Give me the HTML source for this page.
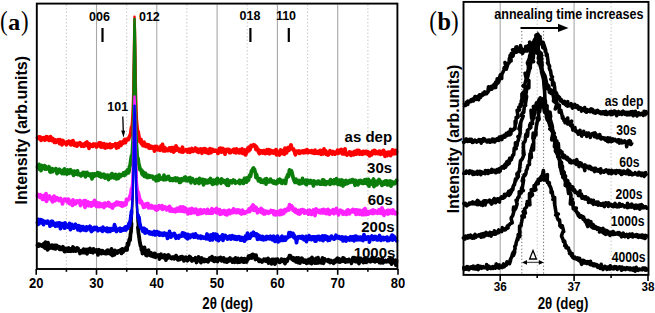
<!DOCTYPE html>
<html><head><meta charset="utf-8"><style>
html,body{margin:0;padding:0;background:#fff;width:655px;height:313px;overflow:hidden}
svg{display:block}
</style></head><body>
<svg width="655" height="313" viewBox="0 0 655 313"><line x1="96.5" y1="4.5" x2="96.5" y2="268" stroke="#a8a8a8" stroke-width="1.1"/>
<line x1="156.8" y1="4.5" x2="156.8" y2="268" stroke="#a8a8a8" stroke-width="1.1"/>
<line x1="217.1" y1="4.5" x2="217.1" y2="268" stroke="#a8a8a8" stroke-width="1.1"/>
<line x1="277.4" y1="4.5" x2="277.4" y2="268" stroke="#a8a8a8" stroke-width="1.1"/>
<line x1="337.7" y1="4.5" x2="337.7" y2="268" stroke="#a8a8a8" stroke-width="1.1"/>
<line x1="66.4" y1="4.5" x2="66.4" y2="268" stroke="#c8c8c8" stroke-width="1" stroke-dasharray="1.5 2"/>
<line x1="126.7" y1="4.5" x2="126.7" y2="268" stroke="#c8c8c8" stroke-width="1" stroke-dasharray="1.5 2"/>
<line x1="186.9" y1="4.5" x2="186.9" y2="268" stroke="#c8c8c8" stroke-width="1" stroke-dasharray="1.5 2"/>
<line x1="247.2" y1="4.5" x2="247.2" y2="268" stroke="#c8c8c8" stroke-width="1" stroke-dasharray="1.5 2"/>
<line x1="307.6" y1="4.5" x2="307.6" y2="268" stroke="#c8c8c8" stroke-width="1" stroke-dasharray="1.5 2"/>
<line x1="367.9" y1="4.5" x2="367.9" y2="268" stroke="#c8c8c8" stroke-width="1" stroke-dasharray="1.5 2"/>
<path d="M37.5 245.3L38.0 246.1L38.5 244.1L39.0 246.0L39.5 245.3L40.0 244.5L40.5 245.1L41.0 245.2L41.5 245.6L42.0 246.0L42.5 244.8L43.0 244.5L43.5 246.7L44.0 243.3L44.5 244.9L45.0 248.0L45.5 242.1L46.0 245.0L46.5 247.0L47.0 243.8L47.5 249.8L48.0 242.6L48.5 248.3L49.0 248.6L49.5 247.7L50.0 246.2L50.5 247.1L51.0 245.4L51.5 247.9L52.0 245.2L52.5 246.5L53.0 248.3L53.5 245.5L54.0 246.6L54.5 247.4L55.0 245.4L55.5 248.9L56.0 247.9L56.5 245.3L57.0 247.5L57.5 246.5L58.0 246.8L58.5 247.9L59.0 246.8L59.5 249.2L60.0 247.0L60.5 249.4L61.0 248.0L61.5 249.4L62.0 247.5L62.5 247.6L63.0 246.8L63.5 249.3L64.0 249.8L64.5 251.6L65.0 250.5L65.5 249.1L66.0 248.5L66.5 249.4L67.0 248.9L67.5 251.1L68.0 250.4L68.5 248.0L69.0 248.3L69.5 251.2L70.0 249.8L70.5 249.1L71.0 251.2L71.5 249.0L72.0 249.2L72.5 249.0L73.0 247.0L73.5 251.0L74.0 248.2L74.5 249.1L75.0 249.0L75.5 251.1L76.0 250.0L76.5 250.2L77.0 247.9L77.5 250.2L78.0 248.3L78.5 250.9L79.0 251.0L79.5 250.5L80.0 253.5L80.5 251.4L81.0 251.6L81.5 251.0L82.0 250.6L82.5 252.2L83.0 252.5L83.5 249.2L84.0 252.5L84.5 251.8L85.0 252.5L85.5 251.8L86.0 249.5L86.5 249.6L87.0 253.9L87.5 251.7L88.0 249.4L88.5 252.0L89.0 251.0L89.5 249.0L90.0 248.4L90.5 249.4L91.0 252.1L91.5 251.6L92.0 251.4L92.5 252.2L93.0 252.7L93.5 248.9L94.0 251.5L94.5 250.8L95.0 250.2L95.5 251.2L96.0 251.8L96.5 251.7L97.0 250.0L97.5 251.4L98.0 254.9L98.5 250.7L99.0 249.8L99.5 252.6L100.0 253.0L100.5 252.9L101.0 250.7L101.5 253.6L102.0 251.2L102.5 250.7L103.0 251.4L103.5 252.2L104.0 253.3L104.5 253.2L105.0 252.3L105.5 253.6L106.0 252.5L106.5 253.6L107.0 250.4L107.5 250.2L108.0 253.4L108.5 250.4L109.0 251.9L109.5 252.2L110.0 251.7L110.5 251.7L111.0 254.3L111.5 248.8L112.0 253.5L112.5 255.5L113.0 252.3L113.5 252.2L114.0 253.3L114.5 254.8L115.0 250.5L115.5 252.3L116.0 251.8L116.5 252.8L117.0 252.2L117.5 252.9L118.0 251.3L118.5 251.9L119.0 250.8L119.5 250.7L120.0 251.4L120.5 251.3L121.0 249.7L121.5 253.4L122.0 250.8L122.5 248.9L123.0 252.2L123.5 249.4L124.0 250.8L124.5 249.8L125.0 249.8L125.5 249.3L126.0 247.7L126.5 248.0L127.0 250.0L127.5 243.3L128.0 245.4L128.5 244.6L129.0 241.1L129.5 238.8L130.0 240.4L130.5 234.0L131.0 231.8L131.5 223.7" fill="none" stroke="#000000" stroke-width="3.8" stroke-linejoin="round" stroke-linecap="round"/>
<path d="M130.5 234.0L131.0 231.8L131.5 223.7L132.0 213.7L132.5 199.0L133.0 174.9L133.5 134.6L134.0 73.9L134.5 24.6L135.0 48.9L135.5 112.6L136.0 161.4L136.5 190.4L137.0 208.5L137.5 220.6L138.0 227.5L138.5 233.0" fill="none" stroke="#000000" stroke-width="2.4" stroke-linejoin="round" stroke-linecap="round"/>
<path d="M138.0 227.5L138.5 233.0L139.0 236.3L139.5 240.0L140.0 243.2L140.5 245.8L141.0 246.0L141.5 250.0L142.0 248.1L142.5 253.5L143.0 251.1L143.5 251.0L144.0 250.2L144.5 247.4L145.0 251.5L145.5 252.4L146.0 255.1L146.5 250.8L147.0 255.7L147.5 252.9L148.0 254.5L148.5 250.1L149.0 254.1L149.5 253.6L150.0 255.2L150.5 254.5L151.0 252.9L151.5 255.9L152.0 255.7L152.5 255.7L153.0 256.4L153.5 256.6L154.0 255.1L154.5 253.4L155.0 253.4L155.5 257.3L156.0 256.5L156.5 255.7L157.0 255.0L157.5 255.8L158.0 255.8L158.5 255.4L159.0 254.9L159.5 259.0L160.0 256.4L160.5 255.3L161.0 254.3L161.5 255.2L162.0 257.3L162.5 257.4L163.0 256.1L163.5 256.5L164.0 256.1L164.5 255.0L165.0 258.4L165.5 257.2L166.0 260.1L166.5 255.7L167.0 256.6L167.5 258.1L168.0 256.5L168.5 255.0L169.0 255.6L169.5 257.1L170.0 257.5L170.5 257.0L171.0 258.5L171.5 258.6L172.0 257.7L172.5 257.3L173.0 256.9L173.5 258.1L174.0 258.7L174.5 257.5L175.0 258.1L175.5 257.0L176.0 255.6L176.5 256.2L177.0 258.7L177.5 258.3L178.0 259.9L178.5 257.8L179.0 259.0L179.5 259.6L180.0 259.2L180.5 257.0L181.0 257.6L181.5 258.1L182.0 256.6L182.5 258.7L183.0 259.5L183.5 257.4L184.0 260.9L184.5 257.7L185.0 257.9L185.5 257.9L186.0 257.3L186.5 258.9L187.0 258.3L187.5 260.7L188.0 259.2L188.5 259.2L189.0 258.1L189.5 256.5L190.0 258.4L190.5 257.3L191.0 259.9L191.5 258.5L192.0 261.0L192.5 259.7L193.0 259.8L193.5 259.0L194.0 259.0L194.5 259.7L195.0 260.1L195.5 257.8L196.0 259.5L196.5 262.5L197.0 258.8L197.5 258.6L198.0 258.0L198.5 257.0L199.0 260.7L199.5 259.1L200.0 259.5L200.5 261.7L201.0 262.6L201.5 257.9L202.0 260.6L202.5 260.1L203.0 259.8L203.5 259.9L204.0 259.2L204.5 261.5L205.0 260.2L205.5 259.8L206.0 261.1L206.5 260.6L207.0 260.0L207.5 259.9L208.0 261.9L208.5 260.2L209.0 259.3L209.5 258.3L210.0 259.0L210.5 258.1L211.0 259.7L211.5 259.9L212.0 256.7L212.5 259.6L213.0 260.5L213.5 259.9L214.0 258.3L214.5 261.4L215.0 258.7L215.5 258.0L216.0 258.2L216.5 259.7L217.0 261.1L217.5 261.4L218.0 260.1L218.5 258.1L219.0 258.9L219.5 258.6L220.0 259.6L220.5 257.4L221.0 260.0L221.5 260.8L222.0 259.7L222.5 260.5L223.0 258.6L223.5 257.9L224.0 259.0L224.5 261.6L225.0 261.4L225.5 259.3L226.0 261.7L226.5 259.5L227.0 262.1L227.5 260.7L228.0 259.4L228.5 261.2L229.0 259.0L229.5 258.8L230.0 258.1L230.5 260.5L231.0 260.0L231.5 260.0L232.0 259.6L232.5 262.2L233.0 259.6L233.5 259.2L234.0 261.9L234.5 262.2L235.0 260.7L235.5 257.8L236.0 259.4L236.5 261.1L237.0 260.3L237.5 262.4L238.0 258.4L238.5 261.2L239.0 259.4L239.5 262.2L240.0 260.2L240.5 261.8L241.0 259.4L241.5 258.4L242.0 258.8L242.5 259.5L243.0 258.9L243.5 262.1L244.0 262.2L244.5 260.7L245.0 258.8L245.5 260.1L246.0 259.2L246.5 262.0L247.0 260.2L247.5 260.2L248.0 258.7L248.5 256.1L249.0 257.4L249.5 256.4L250.0 258.0L250.5 257.1L251.0 255.4L251.5 255.6L252.0 258.0L252.5 254.3L253.0 254.3L253.5 255.3L254.0 254.9L254.5 255.6L255.0 257.4L255.5 259.5L256.0 255.1L256.5 258.1L257.0 258.6L257.5 258.9L258.0 259.1L258.5 259.3L259.0 261.4L259.5 259.5L260.0 260.2L260.5 260.5L261.0 260.7L261.5 260.4L262.0 262.0L262.5 260.7L263.0 260.9L263.5 260.6L264.0 259.3L264.5 259.6L265.0 259.3L265.5 261.0L266.0 259.7L266.5 259.3L267.0 261.1L267.5 261.5L268.0 258.3L268.5 263.1L269.0 260.8L269.5 260.6L270.0 262.3L270.5 260.9L271.0 259.9L271.5 263.8L272.0 259.3L272.5 260.6L273.0 262.0L273.5 259.3L274.0 260.6L274.5 261.3L275.0 264.1L275.5 259.5L276.0 260.7L276.5 261.7L277.0 260.9L277.5 259.1L278.0 261.4L278.5 260.9L279.0 261.4L279.5 262.4L280.0 262.2L280.5 261.4L281.0 261.2L281.5 259.2L282.0 260.6L282.5 261.1L283.0 260.2L283.5 260.9L284.0 259.6L284.5 262.8L285.0 263.6L285.5 259.9L286.0 260.8L286.5 259.7L287.0 261.4L287.5 259.8L288.0 258.8L288.5 257.8L289.0 257.8L289.5 255.8L290.0 257.8L290.5 255.8L291.0 257.6L291.5 257.4L292.0 259.1L292.5 258.1L293.0 260.1L293.5 257.9L294.0 260.5L294.5 259.7L295.0 260.6L295.5 260.6L296.0 261.9L296.5 257.9L297.0 261.2L297.5 258.7L298.0 262.5L298.5 258.0L299.0 259.4L299.5 258.4L300.0 263.1L300.5 259.0L301.0 260.9L301.5 260.0L302.0 258.3L302.5 260.3L303.0 261.7L303.5 260.5L304.0 262.1L304.5 260.3L305.0 260.8L305.5 260.2L306.0 261.3L306.5 263.4L307.0 261.3L307.5 261.1L308.0 259.9L308.5 259.7L309.0 262.8L309.5 259.2L310.0 259.5L310.5 260.6L311.0 260.2L311.5 263.5L312.0 257.5L312.5 261.3L313.0 261.8L313.5 259.2L314.0 259.9L314.5 261.4L315.0 263.1L315.5 259.5L316.0 258.6L316.5 262.1L317.0 262.9L317.5 260.3L318.0 257.7L318.5 262.8L319.0 260.5L319.5 262.4L320.0 260.7L320.5 260.3L321.0 260.2L321.5 262.9L322.0 262.8L322.5 257.8L323.0 259.5L323.5 263.3L324.0 260.3L324.5 258.9L325.0 260.8L325.5 260.6L326.0 260.7L326.5 260.1L327.0 260.4L327.5 260.2L328.0 261.3L328.5 259.7L329.0 260.4L329.5 260.6L330.0 262.6L330.5 261.3L331.0 260.6L331.5 261.5L332.0 261.4L332.5 262.3L333.0 261.5L333.5 263.3L334.0 262.7L334.5 260.7L335.0 260.2L335.5 262.0L336.0 261.5L336.5 260.7L337.0 258.7L337.5 258.2L338.0 261.3L338.5 261.9L339.0 261.9L339.5 259.0L340.0 262.2L340.5 260.0L341.0 261.3L341.5 261.4L342.0 259.7L342.5 260.0L343.0 257.9L343.5 259.5L344.0 258.3L344.5 261.4L345.0 260.9L345.5 262.1L346.0 261.3L346.5 259.9L347.0 261.3L347.5 260.2L348.0 261.6L348.5 261.2L349.0 259.4L349.5 260.8L350.0 260.9L350.5 260.4L351.0 262.0L351.5 263.2L352.0 260.3L352.5 260.3L353.0 257.6L353.5 260.6L354.0 260.2L354.5 257.8L355.0 261.2L355.5 261.6L356.0 259.8L356.5 260.3L357.0 259.4L357.5 261.9L358.0 258.7L358.5 260.4L359.0 263.5L359.5 260.9L360.0 261.4L360.5 260.6L361.0 259.1L361.5 260.7L362.0 261.4L362.5 259.4L363.0 261.3L363.5 262.5L364.0 262.3L364.5 258.6L365.0 259.4L365.5 258.5L366.0 262.3L366.5 261.6L367.0 261.8L367.5 259.6L368.0 259.2L368.5 260.9L369.0 260.9L369.5 259.6L370.0 261.0L370.5 261.7L371.0 261.1L371.5 259.3L372.0 257.8L372.5 260.4L373.0 261.0L373.5 260.4L374.0 260.2L374.5 259.8L375.0 261.8L375.5 260.7L376.0 261.0L376.5 259.4L377.0 259.9L377.5 261.0L378.0 259.4L378.5 259.0L379.0 260.3L379.5 262.5L380.0 261.1L380.5 262.8L381.0 260.6L381.5 260.4L382.0 258.8L382.5 260.0L383.0 262.8L383.5 261.3L384.0 261.8L384.5 261.8L385.0 260.8L385.5 260.5L386.0 261.0L386.5 261.7L387.0 261.4L387.5 261.5L388.0 261.0L388.5 259.7L389.0 260.4L389.5 259.5L390.0 262.2L390.5 257.9L391.0 260.5L391.5 264.1L392.0 260.3L392.5 259.2L393.0 260.8L393.5 262.6L394.0 260.6L394.5 261.7L395.0 260.9L395.5 260.3L396.0 265.2L396.5 260.9" fill="none" stroke="#000000" stroke-width="3.8" stroke-linejoin="round" stroke-linecap="round"/>
<path d="M37.5 137.9L38.0 138.4L38.5 137.6L39.0 136.9L39.5 137.6L40.0 136.9L40.5 138.4L41.0 140.3L41.5 137.8L42.0 137.8L42.5 139.4L43.0 139.3L43.5 139.0L44.0 137.7L44.5 139.0L45.0 140.1L45.5 137.4L46.0 138.7L46.5 136.8L47.0 137.7L47.5 137.0L48.0 139.4L48.5 138.0L49.0 140.3L49.5 140.2L50.0 139.8L50.5 136.6L51.0 139.5L51.5 140.2L52.0 140.6L52.5 138.3L53.0 139.9L53.5 139.3L54.0 139.6L54.5 142.3L55.0 139.8L55.5 141.0L56.0 142.3L56.5 140.4L57.0 141.1L57.5 141.5L58.0 141.5L58.5 139.8L59.0 141.7L59.5 143.6L60.0 139.6L60.5 143.0L61.0 142.1L61.5 141.1L62.0 144.8L62.5 143.2L63.0 140.5L63.5 142.4L64.0 143.1L64.5 142.1L65.0 143.4L65.5 142.4L66.0 143.5L66.5 144.7L67.0 141.8L67.5 143.1L68.0 142.2L68.5 143.1L69.0 141.3L69.5 142.2L70.0 142.8L70.5 144.4L71.0 144.8L71.5 141.4L72.0 142.2L72.5 144.3L73.0 140.7L73.5 142.9L74.0 143.5L74.5 145.4L75.0 144.7L75.5 143.3L76.0 143.3L76.5 143.5L77.0 146.1L77.5 143.4L78.0 143.6L78.5 144.6L79.0 144.0L79.5 144.0L80.0 142.7L80.5 144.3L81.0 143.8L81.5 146.1L82.0 145.4L82.5 144.5L83.0 145.5L83.5 144.2L84.0 146.2L84.5 144.7L85.0 145.6L85.5 143.0L86.0 145.4L86.5 142.6L87.0 142.1L87.5 144.6L88.0 143.8L88.5 145.3L89.0 148.3L89.5 144.0L90.0 144.3L90.5 145.5L91.0 146.0L91.5 145.1L92.0 145.1L92.5 146.4L93.0 146.2L93.5 144.0L94.0 145.4L94.5 145.6L95.0 144.1L95.5 145.9L96.0 144.4L96.5 147.0L97.0 145.9L97.5 145.8L98.0 144.9L98.5 145.5L99.0 142.9L99.5 144.2L100.0 146.3L100.5 142.8L101.0 147.0L101.5 143.4L102.0 146.9L102.5 144.6L103.0 146.9L103.5 146.0L104.0 143.7L104.5 147.6L105.0 147.9L105.5 145.8L106.0 145.5L106.5 145.7L107.0 144.5L107.5 147.4L108.0 145.1L108.5 145.8L109.0 144.8L109.5 145.0L110.0 144.1L110.5 147.7L111.0 145.7L111.5 147.2L112.0 145.9L112.5 144.9L113.0 145.4L113.5 145.1L114.0 145.8L114.5 145.3L115.0 145.4L115.5 143.8L116.0 144.6L116.5 148.0L117.0 144.7L117.5 144.1L118.0 146.0L118.5 147.4L119.0 143.2L119.5 144.8L120.0 144.0L120.5 142.1L121.0 145.3L121.5 143.9L122.0 143.6L122.5 142.1L123.0 143.3L123.5 141.5L124.0 141.6L124.5 139.9L125.0 139.4L125.5 142.6L126.0 139.7L126.5 140.6L127.0 139.8L127.5 139.0L128.0 138.5L128.5 139.5L129.0 137.5L129.5 136.7L130.0 135.5L130.5 134.9L131.0 131.6L131.5 127.5" fill="none" stroke="#ff0000" stroke-width="3.8" stroke-linejoin="round" stroke-linecap="round"/>
<path d="M130.5 134.9L131.0 131.6L131.5 127.5L132.0 121.3L132.5 112.6L133.0 100.1L133.5 77.5L134.0 43.9L134.5 16.8L135.0 30.3L135.5 65.4L136.0 92.7L136.5 108.9L137.0 120.3L137.5 125.1L138.0 131.4L138.5 134.4" fill="none" stroke="#ff0000" stroke-width="2.4" stroke-linejoin="round" stroke-linecap="round"/>
<path d="M138.0 131.4L138.5 134.4L139.0 137.3L139.5 140.5L140.0 141.6L140.5 139.4L141.0 139.6L141.5 143.8L142.0 141.9L142.5 143.9L143.0 145.6L143.5 142.5L144.0 142.3L144.5 145.9L145.0 145.9L145.5 145.7L146.0 146.4L146.5 145.3L147.0 144.6L147.5 146.6L148.0 145.7L148.5 144.9L149.0 148.0L149.5 147.3L150.0 148.1L150.5 146.3L151.0 146.8L151.5 146.4L152.0 146.7L152.5 148.3L153.0 147.0L153.5 148.7L154.0 148.7L154.5 151.1L155.0 146.4L155.5 149.7L156.0 148.3L156.5 148.5L157.0 146.5L157.5 148.0L158.0 149.7L158.5 148.6L159.0 148.9L159.5 148.4L160.0 150.4L160.5 148.8L161.0 145.8L161.5 148.0L162.0 146.2L162.5 144.4L163.0 148.3L163.5 150.9L164.0 149.2L164.5 147.5L165.0 147.8L165.5 150.8L166.0 149.4L166.5 149.3L167.0 149.2L167.5 149.3L168.0 150.4L168.5 150.1L169.0 149.7L169.5 147.9L170.0 150.1L170.5 148.5L171.0 151.0L171.5 147.7L172.0 149.3L172.5 149.5L173.0 147.7L173.5 152.0L174.0 151.6L174.5 148.9L175.0 150.7L175.5 150.2L176.0 146.0L176.5 150.0L177.0 149.6L177.5 149.8L178.0 148.2L178.5 149.3L179.0 149.5L179.5 151.4L180.0 150.2L180.5 149.8L181.0 151.9L181.5 149.0L182.0 149.3L182.5 147.3L183.0 152.1L183.5 151.2L184.0 151.2L184.5 150.9L185.0 150.1L185.5 150.2L186.0 149.6L186.5 149.7L187.0 150.1L187.5 152.1L188.0 150.8L188.5 149.9L189.0 149.2L189.5 149.2L190.0 152.3L190.5 150.8L191.0 150.2L191.5 149.6L192.0 148.6L192.5 150.0L193.0 151.4L193.5 149.6L194.0 149.9L194.5 149.9L195.0 150.4L195.5 148.0L196.0 149.9L196.5 149.0L197.0 151.5L197.5 149.2L198.0 151.1L198.5 152.4L199.0 149.9L199.5 149.5L200.0 150.6L200.5 150.3L201.0 149.0L201.5 151.0L202.0 153.2L202.5 150.0L203.0 150.1L203.5 148.9L204.0 150.9L204.5 148.7L205.0 148.9L205.5 152.3L206.0 149.2L206.5 152.0L207.0 152.6L207.5 150.9L208.0 151.3L208.5 153.3L209.0 150.3L209.5 149.7L210.0 148.7L210.5 150.6L211.0 152.7L211.5 152.0L212.0 149.3L212.5 149.4L213.0 149.9L213.5 151.1L214.0 150.4L214.5 151.0L215.0 151.1L215.5 150.3L216.0 150.7L216.5 151.0L217.0 150.6L217.5 151.5L218.0 153.4L218.5 151.6L219.0 150.9L219.5 148.5L220.0 151.4L220.5 148.1L221.0 148.9L221.5 152.1L222.0 151.9L222.5 150.7L223.0 148.5L223.5 150.4L224.0 150.0L224.5 151.9L225.0 154.1L225.5 151.3L226.0 149.9L226.5 149.4L227.0 151.0L227.5 150.8L228.0 149.5L228.5 151.3L229.0 149.5L229.5 152.7L230.0 152.6L230.5 152.7L231.0 150.5L231.5 151.9L232.0 151.0L232.5 150.7L233.0 150.8L233.5 149.4L234.0 149.3L234.5 152.4L235.0 151.0L235.5 151.6L236.0 152.7L236.5 148.9L237.0 150.3L237.5 151.6L238.0 152.0L238.5 150.9L239.0 152.9L239.5 151.7L240.0 149.8L240.5 150.2L241.0 152.6L241.5 152.2L242.0 148.9L242.5 153.4L243.0 152.4L243.5 153.4L244.0 151.0L244.5 151.1L245.0 149.9L245.5 154.9L246.0 151.0L246.5 153.3L247.0 150.0L247.5 150.8L248.0 147.9L248.5 149.3L249.0 150.7L249.5 147.0L250.0 149.6L250.5 148.0L251.0 145.5L251.5 145.8L252.0 145.5L252.5 145.9L253.0 145.1L253.5 144.8L254.0 145.8L254.5 145.2L255.0 145.3L255.5 147.6L256.0 149.5L256.5 146.8L257.0 149.5L257.5 149.1L258.0 149.1L258.5 152.1L259.0 150.5L259.5 153.6L260.0 150.6L260.5 152.3L261.0 151.6L261.5 150.9L262.0 152.8L262.5 151.8L263.0 152.9L263.5 152.0L264.0 150.6L264.5 152.0L265.0 152.2L265.5 153.5L266.0 150.9L266.5 152.1L267.0 149.8L267.5 153.1L268.0 150.7L268.5 149.7L269.0 152.1L269.5 153.8L270.0 150.1L270.5 150.7L271.0 151.2L271.5 150.7L272.0 152.8L272.5 151.1L273.0 151.3L273.5 153.1L274.0 151.2L274.5 152.9L275.0 150.9L275.5 150.6L276.0 149.7L276.5 154.9L277.0 151.9L277.5 152.6L278.0 152.3L278.5 152.5L279.0 152.4L279.5 155.0L280.0 150.9L280.5 150.1L281.0 150.9L281.5 150.5L282.0 153.4L282.5 153.5L283.0 151.0L283.5 150.4L284.0 151.8L284.5 154.2L285.0 148.2L285.5 152.7L286.0 150.2L286.5 152.9L287.0 149.5L287.5 150.0L288.0 147.6L288.5 147.7L289.0 150.4L289.5 149.0L290.0 147.0L290.5 146.2L291.0 144.9L291.5 147.3L292.0 148.4L292.5 149.0L293.0 149.7L293.5 148.9L294.0 150.9L294.5 151.4L295.0 153.6L295.5 154.7L296.0 152.0L296.5 151.2L297.0 152.3L297.5 151.6L298.0 151.4L298.5 152.4L299.0 151.0L299.5 153.3L300.0 152.3L300.5 152.8L301.0 152.2L301.5 151.4L302.0 151.1L302.5 152.1L303.0 151.7L303.5 152.8L304.0 152.5L304.5 150.6L305.0 152.6L305.5 150.6L306.0 151.6L306.5 152.1L307.0 149.6L307.5 152.6L308.0 152.7L308.5 152.3L309.0 151.9L309.5 152.0L310.0 151.1L310.5 152.1L311.0 151.7L311.5 152.6L312.0 150.8L312.5 152.8L313.0 152.7L313.5 152.3L314.0 151.9L314.5 153.3L315.0 150.2L315.5 153.2L316.0 152.9L316.5 152.9L317.0 153.1L317.5 151.6L318.0 152.2L318.5 153.4L319.0 153.1L319.5 152.8L320.0 150.4L320.5 153.3L321.0 154.2L321.5 154.0L322.0 152.9L322.5 150.4L323.0 153.9L323.5 152.3L324.0 149.0L324.5 153.1L325.0 150.5L325.5 150.7L326.0 151.7L326.5 154.3L327.0 152.0L327.5 152.9L328.0 155.0L328.5 154.8L329.0 152.4L329.5 152.2L330.0 150.8L330.5 151.6L331.0 153.2L331.5 153.1L332.0 152.7L332.5 154.0L333.0 151.5L333.5 152.5L334.0 153.6L334.5 153.4L335.0 154.1L335.5 153.2L336.0 152.2L336.5 153.1L337.0 151.2L337.5 150.3L338.0 153.4L338.5 152.5L339.0 153.0L339.5 150.2L340.0 152.1L340.5 151.8L341.0 151.4L341.5 149.5L342.0 152.1L342.5 153.9L343.0 153.2L343.5 151.8L344.0 152.6L344.5 153.7L345.0 148.8L345.5 152.5L346.0 153.4L346.5 153.6L347.0 155.0L347.5 154.2L348.0 153.1L348.5 153.1L349.0 153.7L349.5 151.9L350.0 152.6L350.5 153.9L351.0 155.4L351.5 152.4L352.0 152.6L352.5 152.9L353.0 154.5L353.5 152.6L354.0 154.7L354.5 151.3L355.0 152.4L355.5 152.4L356.0 153.8L356.5 154.1L357.0 150.5L357.5 151.4L358.0 153.1L358.5 151.7L359.0 150.5L359.5 154.1L360.0 153.4L360.5 153.4L361.0 152.0L361.5 154.1L362.0 152.3L362.5 154.2L363.0 151.4L363.5 151.5L364.0 153.0L364.5 151.7L365.0 153.6L365.5 153.1L366.0 151.4L366.5 152.8L367.0 152.2L367.5 154.0L368.0 151.8L368.5 152.1L369.0 154.4L369.5 155.8L370.0 155.5L370.5 152.8L371.0 153.0L371.5 154.9L372.0 152.5L372.5 151.3L373.0 152.9L373.5 153.3L374.0 151.6L374.5 150.4L375.0 150.7L375.5 153.6L376.0 151.7L376.5 152.5L377.0 153.0L377.5 153.6L378.0 152.3L378.5 153.4L379.0 151.5L379.5 152.2L380.0 151.3L380.5 154.3L381.0 152.7L381.5 151.7L382.0 152.2L382.5 152.4L383.0 153.7L383.5 150.5L384.0 151.3L384.5 152.2L385.0 156.3L385.5 154.1L386.0 152.6L386.5 153.8L387.0 155.6L387.5 152.4L388.0 152.2L388.5 154.5L389.0 153.5L389.5 153.7L390.0 152.1L390.5 155.5L391.0 155.2L391.5 153.6L392.0 153.7L392.5 149.9L393.0 153.7L393.5 152.5L394.0 153.4L394.5 153.7L395.0 152.3L395.5 150.4L396.0 153.3L396.5 151.8" fill="none" stroke="#ff0000" stroke-width="3.8" stroke-linejoin="round" stroke-linecap="round"/>
<path d="M37.5 166.9L38.0 166.6L38.5 167.0L39.0 164.3L39.5 169.3L40.0 168.1L40.5 169.3L41.0 170.6L41.5 168.0L42.0 165.5L42.5 166.8L43.0 166.5L43.5 167.5L44.0 168.4L44.5 165.6L45.0 169.0L45.5 166.4L46.0 169.1L46.5 168.6L47.0 168.4L47.5 168.8L48.0 168.2L48.5 168.2L49.0 166.8L49.5 169.2L50.0 171.9L50.5 172.1L51.0 171.3L51.5 170.5L52.0 168.7L52.5 171.7L53.0 169.7L53.5 169.8L54.0 169.5L54.5 170.2L55.0 169.5L55.5 170.1L56.0 168.8L56.5 169.8L57.0 173.6L57.5 170.4L58.0 170.3L58.5 171.4L59.0 171.8L59.5 169.3L60.0 170.7L60.5 172.3L61.0 171.5L61.5 171.4L62.0 173.5L62.5 170.4L63.0 171.6L63.5 170.8L64.0 173.7L64.5 169.0L65.0 170.8L65.5 171.1L66.0 172.9L66.5 172.9L67.0 174.0L67.5 170.0L68.0 173.3L68.5 171.9L69.0 171.5L69.5 173.2L70.0 171.3L70.5 169.7L71.0 172.2L71.5 170.7L72.0 172.0L72.5 173.5L73.0 173.4L73.5 175.3L74.0 172.9L74.5 171.1L75.0 172.2L75.5 172.1L76.0 171.7L76.5 174.1L77.0 172.7L77.5 170.9L78.0 174.7L78.5 173.6L79.0 174.4L79.5 174.1L80.0 174.9L80.5 174.1L81.0 175.9L81.5 174.8L82.0 174.8L82.5 174.9L83.0 172.3L83.5 174.2L84.0 174.1L84.5 174.8L85.0 172.7L85.5 176.9L86.0 174.9L86.5 173.1L87.0 172.4L87.5 174.5L88.0 174.8L88.5 174.0L89.0 175.1L89.5 174.2L90.0 175.9L90.5 174.1L91.0 175.1L91.5 176.6L92.0 178.9L92.5 173.9L93.0 174.7L93.5 174.2L94.0 176.5L94.5 173.9L95.0 174.8L95.5 175.5L96.0 174.2L96.5 174.3L97.0 175.0L97.5 172.7L98.0 173.7L98.5 175.1L99.0 175.9L99.5 175.5L100.0 173.3L100.5 175.2L101.0 177.0L101.5 176.6L102.0 175.8L102.5 174.7L103.0 176.8L103.5 175.1L104.0 174.3L104.5 174.9L105.0 178.0L105.5 176.3L106.0 177.6L106.5 175.4L107.0 177.4L107.5 175.2L108.0 175.8L108.5 179.6L109.0 177.2L109.5 175.4L110.0 176.0L110.5 176.5L111.0 177.8L111.5 175.4L112.0 173.6L112.5 175.7L113.0 176.1L113.5 176.2L114.0 177.9L114.5 176.5L115.0 177.2L115.5 174.4L116.0 177.2L116.5 178.9L117.0 177.0L117.5 176.2L118.0 176.0L118.5 178.3L119.0 174.4L119.5 175.5L120.0 176.2L120.5 176.5L121.0 174.8L121.5 175.7L122.0 174.7L122.5 175.2L123.0 174.6L123.5 173.0L124.0 174.4L124.5 175.4L125.0 172.5L125.5 173.2L126.0 174.1L126.5 171.2L127.0 172.4L127.5 170.0L128.0 172.2L128.5 172.8L129.0 171.1L129.5 166.7L130.0 165.9L130.5 162.7L131.0 159.3L131.5 155.8" fill="none" stroke="#0a7d0a" stroke-width="3.8" stroke-linejoin="round" stroke-linecap="round"/>
<path d="M130.5 162.7L131.0 159.3L131.5 155.8L132.0 146.9L132.5 138.0L133.0 120.8L133.5 93.7L134.0 52.4L134.5 18.9L135.0 35.5L135.5 78.5L136.0 111.6L136.5 132.1L137.0 144.0L137.5 150.7L138.0 158.5L138.5 162.3" fill="none" stroke="#0a7d0a" stroke-width="2.4" stroke-linejoin="round" stroke-linecap="round"/>
<path d="M138.0 158.5L138.5 162.3L139.0 164.6L139.5 166.7L140.0 169.6L140.5 169.0L141.0 169.7L141.5 171.3L142.0 174.0L142.5 171.0L143.0 175.1L143.5 173.0L144.0 172.8L144.5 176.4L145.0 174.8L145.5 173.4L146.0 175.0L146.5 177.0L147.0 177.5L147.5 175.4L148.0 176.7L148.5 177.3L149.0 175.5L149.5 177.1L150.0 176.6L150.5 176.0L151.0 176.2L151.5 177.0L152.0 177.1L152.5 176.3L153.0 176.6L153.5 178.8L154.0 177.6L154.5 178.6L155.0 179.1L155.5 178.3L156.0 180.7L156.5 176.4L157.0 178.8L157.5 177.2L158.0 180.3L158.5 180.2L159.0 175.1L159.5 176.5L160.0 178.8L160.5 179.1L161.0 179.0L161.5 177.9L162.0 178.7L162.5 179.0L163.0 178.1L163.5 179.7L164.0 175.1L164.5 179.2L165.0 176.9L165.5 179.7L166.0 178.1L166.5 177.2L167.0 179.0L167.5 177.3L168.0 177.3L168.5 176.4L169.0 178.6L169.5 179.4L170.0 180.2L170.5 178.6L171.0 180.3L171.5 178.9L172.0 178.8L172.5 179.8L173.0 180.5L173.5 178.6L174.0 178.8L174.5 178.9L175.0 179.3L175.5 178.0L176.0 180.7L176.5 178.8L177.0 180.0L177.5 178.3L178.0 180.0L178.5 180.0L179.0 179.0L179.5 182.4L180.0 180.1L180.5 182.2L181.0 181.1L181.5 178.8L182.0 179.3L182.5 180.5L183.0 180.0L183.5 180.0L184.0 179.6L184.5 177.5L185.0 179.7L185.5 177.0L186.0 180.7L186.5 179.2L187.0 179.2L187.5 180.0L188.0 180.7L188.5 178.3L189.0 177.9L189.5 178.9L190.0 177.6L190.5 179.2L191.0 182.8L191.5 179.1L192.0 181.5L192.5 178.7L193.0 181.1L193.5 180.3L194.0 180.7L194.5 181.6L195.0 183.3L195.5 181.1L196.0 181.1L196.5 179.6L197.0 181.8L197.5 180.7L198.0 182.2L198.5 181.0L199.0 183.5L199.5 178.4L200.0 180.8L200.5 182.4L201.0 180.7L201.5 180.2L202.0 180.9L202.5 179.4L203.0 181.5L203.5 184.8L204.0 183.0L204.5 179.9L205.0 180.2L205.5 180.9L206.0 182.9L206.5 180.4L207.0 180.6L207.5 182.8L208.0 182.8L208.5 181.1L209.0 180.0L209.5 179.5L210.0 180.7L210.5 178.5L211.0 182.7L211.5 180.8L212.0 182.4L212.5 184.3L213.0 183.4L213.5 180.1L214.0 182.9L214.5 183.4L215.0 180.7L215.5 180.4L216.0 181.6L216.5 179.5L217.0 183.8L217.5 178.4L218.0 180.2L218.5 181.4L219.0 181.4L219.5 182.0L220.0 182.1L220.5 181.5L221.0 183.3L221.5 178.8L222.0 181.8L222.5 180.8L223.0 181.9L223.5 182.1L224.0 180.5L224.5 180.9L225.0 182.9L225.5 182.2L226.0 180.8L226.5 184.6L227.0 185.0L227.5 179.7L228.0 182.2L228.5 185.3L229.0 182.9L229.5 182.1L230.0 181.5L230.5 181.0L231.0 181.5L231.5 181.0L232.0 182.8L232.5 181.2L233.0 181.1L233.5 180.1L234.0 181.7L234.5 180.5L235.0 181.5L235.5 183.2L236.0 182.3L236.5 182.5L237.0 182.3L237.5 181.9L238.0 181.6L238.5 181.3L239.0 182.8L239.5 180.3L240.0 183.6L240.5 181.8L241.0 180.7L241.5 181.1L242.0 180.8L242.5 182.0L243.0 180.7L243.5 183.3L244.0 180.5L244.5 178.4L245.0 180.4L245.5 178.4L246.0 180.9L246.5 182.1L247.0 181.0L247.5 177.6L248.0 177.6L248.5 180.2L249.0 177.1L249.5 175.5L250.0 175.7L250.5 176.4L251.0 173.6L251.5 170.9L252.0 170.4L252.5 170.3L253.0 168.4L253.5 168.0L254.0 170.0L254.5 169.4L255.0 171.7L255.5 173.1L256.0 177.5L256.5 174.3L257.0 176.5L257.5 177.5L258.0 179.3L258.5 180.9L259.0 179.4L259.5 179.4L260.0 178.7L260.5 179.9L261.0 182.2L261.5 181.6L262.0 180.2L262.5 181.2L263.0 181.8L263.5 182.5L264.0 180.9L264.5 181.4L265.0 179.2L265.5 180.2L266.0 184.0L266.5 178.7L267.0 181.3L267.5 182.1L268.0 181.3L268.5 180.6L269.0 181.7L269.5 181.8L270.0 181.7L270.5 179.2L271.0 181.6L271.5 180.6L272.0 181.0L272.5 182.1L273.0 182.7L273.5 183.0L274.0 181.1L274.5 183.1L275.0 183.4L275.5 183.4L276.0 183.7L276.5 181.6L277.0 181.5L277.5 182.9L278.0 179.9L278.5 182.1L279.0 181.0L279.5 181.3L280.0 179.3L280.5 180.5L281.0 181.8L281.5 183.0L282.0 183.2L282.5 181.7L283.0 181.5L283.5 180.6L284.0 182.2L284.5 181.2L285.0 182.2L285.5 183.4L286.0 180.4L286.5 177.6L287.0 177.5L287.5 175.4L288.0 174.4L288.5 176.4L289.0 173.4L289.5 169.8L290.0 172.0L290.5 172.6L291.0 170.6L291.5 171.0L292.0 172.6L292.5 174.9L293.0 177.0L293.5 179.1L294.0 180.4L294.5 181.4L295.0 182.4L295.5 181.9L296.0 179.2L296.5 181.4L297.0 182.1L297.5 181.2L298.0 183.1L298.5 181.3L299.0 180.6L299.5 183.9L300.0 182.8L300.5 182.2L301.0 183.2L301.5 183.4L302.0 182.4L302.5 178.4L303.0 180.9L303.5 181.2L304.0 180.5L304.5 182.2L305.0 183.6L305.5 181.2L306.0 180.3L306.5 184.7L307.0 181.3L307.5 180.2L308.0 182.2L308.5 182.5L309.0 180.9L309.5 183.0L310.0 181.2L310.5 180.6L311.0 182.2L311.5 183.0L312.0 181.1L312.5 182.4L313.0 181.8L313.5 185.9L314.0 181.0L314.5 183.9L315.0 181.9L315.5 181.8L316.0 183.0L316.5 183.2L317.0 183.8L317.5 182.5L318.0 181.2L318.5 181.2L319.0 182.7L319.5 182.8L320.0 184.0L320.5 182.6L321.0 183.5L321.5 184.1L322.0 182.3L322.5 180.0L323.0 180.4L323.5 180.0L324.0 184.3L324.5 180.9L325.0 183.8L325.5 182.9L326.0 184.5L326.5 183.5L327.0 181.9L327.5 181.8L328.0 182.2L328.5 182.3L329.0 181.4L329.5 182.1L330.0 184.4L330.5 179.7L331.0 182.5L331.5 180.9L332.0 182.4L332.5 183.3L333.0 182.1L333.5 183.2L334.0 179.9L334.5 183.7L335.0 181.3L335.5 183.0L336.0 182.4L336.5 178.6L337.0 181.1L337.5 182.5L338.0 184.4L338.5 182.6L339.0 182.6L339.5 180.2L340.0 184.2L340.5 184.7L341.0 182.3L341.5 181.9L342.0 180.0L342.5 183.5L343.0 186.0L343.5 183.2L344.0 184.0L344.5 183.0L345.0 180.9L345.5 184.1L346.0 180.5L346.5 182.0L347.0 182.7L347.5 183.5L348.0 182.9L348.5 182.8L349.0 181.2L349.5 180.5L350.0 182.4L350.5 181.3L351.0 180.5L351.5 180.6L352.0 181.7L352.5 179.7L353.0 180.5L353.5 180.1L354.0 182.6L354.5 182.9L355.0 185.2L355.5 180.3L356.0 181.4L356.5 183.7L357.0 182.1L357.5 181.9L358.0 184.8L358.5 181.9L359.0 180.8L359.5 180.6L360.0 182.9L360.5 182.9L361.0 180.5L361.5 181.1L362.0 183.2L362.5 183.3L363.0 181.6L363.5 183.3L364.0 183.3L364.5 180.0L365.0 182.0L365.5 183.1L366.0 181.7L366.5 179.5L367.0 182.1L367.5 183.6L368.0 184.7L368.5 179.5L369.0 186.2L369.5 181.0L370.0 183.9L370.5 184.3L371.0 183.9L371.5 182.8L372.0 180.9L372.5 183.4L373.0 181.6L373.5 179.0L374.0 186.5L374.5 183.6L375.0 185.1L375.5 181.3L376.0 184.7L376.5 184.8L377.0 184.8L377.5 182.6L378.0 180.9L378.5 182.4L379.0 179.5L379.5 180.3L380.0 182.8L380.5 181.3L381.0 182.4L381.5 182.5L382.0 185.4L382.5 184.5L383.0 182.6L383.5 184.4L384.0 181.6L384.5 182.2L385.0 184.0L385.5 181.0L386.0 182.3L386.5 180.9L387.0 182.9L387.5 185.0L388.0 181.7L388.5 183.0L389.0 181.5L389.5 181.1L390.0 181.0L390.5 184.8L391.0 186.1L391.5 183.4L392.0 181.7L392.5 183.7L393.0 182.3L393.5 183.9L394.0 183.2L394.5 183.2L395.0 183.6L395.5 182.0L396.0 182.2L396.5 180.4" fill="none" stroke="#0a7d0a" stroke-width="3.8" stroke-linejoin="round" stroke-linecap="round"/>
<path d="M37.5 195.7L38.0 194.4L38.5 196.3L39.0 195.2L39.5 196.8L40.0 197.3L40.5 194.8L41.0 195.7L41.5 195.6L42.0 198.0L42.5 199.4L43.0 198.3L43.5 196.7L44.0 199.3L44.5 195.2L45.0 199.5L45.5 196.6L46.0 193.7L46.5 201.3L47.0 199.9L47.5 196.3L48.0 198.1L48.5 197.6L49.0 198.2L49.5 196.0L50.0 197.2L50.5 198.9L51.0 198.6L51.5 200.1L52.0 198.6L52.5 201.8L53.0 197.6L53.5 199.1L54.0 196.1L54.5 197.1L55.0 200.8L55.5 197.7L56.0 199.8L56.5 199.1L57.0 197.8L57.5 198.8L58.0 198.7L58.5 198.8L59.0 200.6L59.5 200.5L60.0 198.9L60.5 198.5L61.0 200.2L61.5 199.8L62.0 201.4L62.5 203.8L63.0 201.3L63.5 200.2L64.0 200.1L64.5 199.2L65.0 199.2L65.5 199.1L66.0 200.0L66.5 200.1L67.0 201.8L67.5 200.3L68.0 200.6L68.5 199.3L69.0 203.3L69.5 201.8L70.0 203.7L70.5 202.4L71.0 203.4L71.5 201.1L72.0 202.5L72.5 205.3L73.0 199.9L73.5 203.3L74.0 204.1L74.5 202.4L75.0 203.0L75.5 203.8L76.0 201.1L76.5 202.7L77.0 200.9L77.5 201.3L78.0 201.4L78.5 202.2L79.0 202.6L79.5 203.1L80.0 200.5L80.5 205.5L81.0 204.3L81.5 203.8L82.0 202.3L82.5 202.7L83.0 203.7L83.5 203.6L84.0 200.6L84.5 204.2L85.0 207.3L85.5 200.6L86.0 204.7L86.5 203.9L87.0 203.2L87.5 205.4L88.0 201.8L88.5 203.8L89.0 205.7L89.5 203.4L90.0 203.1L90.5 203.9L91.0 203.1L91.5 206.1L92.0 202.6L92.5 205.2L93.0 202.2L93.5 205.0L94.0 203.9L94.5 200.4L95.0 204.1L95.5 202.6L96.0 203.6L96.5 206.5L97.0 202.7L97.5 202.8L98.0 206.4L98.5 204.6L99.0 206.6L99.5 204.9L100.0 203.2L100.5 204.4L101.0 206.3L101.5 205.9L102.0 204.6L102.5 204.7L103.0 204.5L103.5 203.8L104.0 207.5L104.5 204.7L105.0 203.1L105.5 204.1L106.0 205.8L106.5 205.7L107.0 204.6L107.5 203.9L108.0 204.9L108.5 202.5L109.0 203.0L109.5 206.1L110.0 204.2L110.5 205.5L111.0 206.7L111.5 205.9L112.0 205.0L112.5 208.0L113.0 205.9L113.5 204.5L114.0 206.0L114.5 205.6L115.0 203.7L115.5 205.1L116.0 204.7L116.5 202.1L117.0 204.7L117.5 204.5L118.0 204.2L118.5 202.5L119.0 204.3L119.5 204.7L120.0 204.9L120.5 203.0L121.0 205.5L121.5 202.8L122.0 204.1L122.5 206.2L123.0 203.2L123.5 203.3L124.0 205.5L124.5 203.2L125.0 203.1L125.5 203.6L126.0 204.5L126.5 199.5L127.0 201.0L127.5 200.3L128.0 199.6L128.5 199.2L129.0 198.3L129.5 198.7L130.0 195.8L130.5 195.2L131.0 193.0L131.5 188.6" fill="none" stroke="#ff22ff" stroke-width="3.8" stroke-linejoin="round" stroke-linecap="round"/>
<path d="M130.5 195.2L131.0 193.0L131.5 188.6L132.0 184.5L132.5 178.1L133.0 165.9L133.5 146.9L134.0 119.2L134.5 96.5L135.0 107.8L135.5 137.1L136.0 159.3L136.5 173.5L137.0 182.9L137.5 187.5L138.0 192.0L138.5 193.6" fill="none" stroke="#ff22ff" stroke-width="2.4" stroke-linejoin="round" stroke-linecap="round"/>
<path d="M138.0 192.0L138.5 193.6L139.0 195.9L139.5 197.9L140.0 202.6L140.5 200.3L141.0 201.0L141.5 201.7L142.0 202.9L142.5 204.5L143.0 204.3L143.5 207.3L144.0 205.1L144.5 207.1L145.0 205.8L145.5 206.5L146.0 203.8L146.5 205.8L147.0 206.1L147.5 206.0L148.0 203.5L148.5 207.9L149.0 206.2L149.5 206.3L150.0 206.6L150.5 206.8L151.0 207.8L151.5 205.5L152.0 206.1L152.5 207.9L153.0 207.7L153.5 207.1L154.0 206.9L154.5 206.6L155.0 207.7L155.5 209.5L156.0 206.5L156.5 210.1L157.0 209.2L157.5 207.5L158.0 209.3L158.5 206.2L159.0 205.8L159.5 206.5L160.0 207.8L160.5 208.0L161.0 207.7L161.5 208.6L162.0 205.6L162.5 209.3L163.0 206.7L163.5 207.8L164.0 208.2L164.5 207.2L165.0 206.9L165.5 207.5L166.0 208.9L166.5 209.8L167.0 209.8L167.5 207.7L168.0 208.0L168.5 207.8L169.0 209.8L169.5 206.4L170.0 211.0L170.5 208.6L171.0 208.2L171.5 209.9L172.0 210.9L172.5 209.9L173.0 211.0L173.5 209.7L174.0 211.3L174.5 211.4L175.0 209.5L175.5 211.7L176.0 210.0L176.5 209.9L177.0 208.5L177.5 209.5L178.0 211.0L178.5 208.1L179.0 210.9L179.5 210.5L180.0 210.4L180.5 207.0L181.0 210.0L181.5 211.1L182.0 209.1L182.5 210.4L183.0 207.0L183.5 211.3L184.0 209.4L184.5 211.6L185.0 207.8L185.5 211.4L186.0 210.2L186.5 211.7L187.0 209.3L187.5 209.7L188.0 213.8L188.5 209.5L189.0 209.7L189.5 210.3L190.0 209.3L190.5 212.5L191.0 213.2L191.5 209.9L192.0 208.5L192.5 212.6L193.0 212.5L193.5 212.1L194.0 212.6L194.5 209.8L195.0 210.8L195.5 209.2L196.0 209.1L196.5 212.5L197.0 210.2L197.5 214.4L198.0 211.3L198.5 210.4L199.0 212.4L199.5 213.8L200.0 212.0L200.5 209.6L201.0 211.9L201.5 213.3L202.0 210.7L202.5 210.4L203.0 212.9L203.5 211.7L204.0 209.9L204.5 211.0L205.0 210.5L205.5 212.0L206.0 211.7L206.5 213.2L207.0 212.6L207.5 209.4L208.0 212.2L208.5 212.9L209.0 212.3L209.5 213.1L210.0 210.9L210.5 210.4L211.0 213.0L211.5 210.2L212.0 208.7L212.5 213.2L213.0 210.7L213.5 211.3L214.0 209.8L214.5 209.9L215.0 210.1L215.5 211.2L216.0 212.3L216.5 208.5L217.0 212.8L217.5 210.1L218.0 210.3L218.5 212.7L219.0 211.7L219.5 209.6L220.0 214.3L220.5 210.6L221.0 212.1L221.5 212.0L222.0 213.7L222.5 211.1L223.0 213.2L223.5 210.7L224.0 213.3L224.5 210.7L225.0 211.3L225.5 214.4L226.0 212.2L226.5 211.9L227.0 214.9L227.5 212.3L228.0 210.6L228.5 212.8L229.0 210.1L229.5 213.3L230.0 213.5L230.5 211.0L231.0 210.9L231.5 212.0L232.0 211.8L232.5 210.4L233.0 212.6L233.5 208.9L234.0 211.2L234.5 211.2L235.0 211.4L235.5 212.2L236.0 210.1L236.5 212.6L237.0 211.5L237.5 210.9L238.0 209.9L238.5 210.1L239.0 212.3L239.5 210.4L240.0 211.9L240.5 213.3L241.0 213.2L241.5 214.0L242.0 211.4L242.5 210.2L243.0 213.2L243.5 212.2L244.0 213.3L244.5 211.7L245.0 213.3L245.5 212.7L246.0 212.5L246.5 212.0L247.0 211.7L247.5 211.2L248.0 210.8L248.5 211.5L249.0 209.0L249.5 211.7L250.0 208.6L250.5 209.6L251.0 207.6L251.5 207.0L252.0 209.9L252.5 206.4L253.0 205.0L253.5 205.8L254.0 206.6L254.5 210.4L255.0 208.1L255.5 209.6L256.0 207.3L256.5 209.7L257.0 210.7L257.5 212.7L258.0 209.6L258.5 211.7L259.0 211.5L259.5 209.9L260.0 211.4L260.5 211.2L261.0 208.4L261.5 212.5L262.0 212.5L262.5 211.1L263.0 209.9L263.5 213.8L264.0 212.1L264.5 213.2L265.0 213.8L265.5 211.1L266.0 212.9L266.5 211.4L267.0 211.7L267.5 211.7L268.0 211.8L268.5 213.3L269.0 212.0L269.5 211.6L270.0 211.4L270.5 212.3L271.0 210.5L271.5 211.1L272.0 211.7L272.5 211.0L273.0 211.6L273.5 210.9L274.0 214.6L274.5 213.6L275.0 212.4L275.5 211.7L276.0 214.9L276.5 212.2L277.0 211.7L277.5 212.2L278.0 212.2L278.5 213.8L279.0 211.8L279.5 214.7L280.0 210.6L280.5 212.8L281.0 210.4L281.5 214.3L282.0 211.3L282.5 211.7L283.0 213.1L283.5 213.5L284.0 210.2L284.5 211.2L285.0 209.6L285.5 211.6L286.0 211.0L286.5 210.3L287.0 209.4L287.5 209.3L288.0 208.1L288.5 209.2L289.0 209.9L289.5 204.6L290.0 206.8L290.5 206.2L291.0 207.6L291.5 205.9L292.0 207.6L292.5 207.0L293.0 210.1L293.5 210.0L294.0 210.2L294.5 211.3L295.0 210.8L295.5 209.2L296.0 212.4L296.5 212.1L297.0 211.5L297.5 213.1L298.0 213.5L298.5 210.3L299.0 210.7L299.5 214.0L300.0 213.8L300.5 210.8L301.0 210.1L301.5 210.9L302.0 211.1L302.5 209.6L303.0 211.8L303.5 210.0L304.0 210.1L304.5 213.1L305.0 210.8L305.5 211.7L306.0 212.7L306.5 212.9L307.0 211.3L307.5 211.9L308.0 210.6L308.5 214.2L309.0 212.7L309.5 210.2L310.0 211.8L310.5 212.8L311.0 212.5L311.5 214.4L312.0 213.7L312.5 211.0L313.0 211.7L313.5 210.0L314.0 212.1L314.5 212.0L315.0 215.6L315.5 211.9L316.0 208.9L316.5 210.9L317.0 211.9L317.5 210.0L318.0 210.6L318.5 211.3L319.0 212.3L319.5 211.6L320.0 210.5L320.5 212.9L321.0 211.0L321.5 211.1L322.0 209.9L322.5 210.7L323.0 212.7L323.5 209.5L324.0 211.7L324.5 212.8L325.0 211.3L325.5 212.1L326.0 210.2L326.5 213.6L327.0 213.3L327.5 212.1L328.0 209.3L328.5 210.3L329.0 213.2L329.5 214.2L330.0 212.2L330.5 213.5L331.0 210.9L331.5 211.5L332.0 211.8L332.5 212.4L333.0 209.7L333.5 213.1L334.0 213.6L334.5 210.2L335.0 209.9L335.5 212.3L336.0 210.9L336.5 208.5L337.0 212.9L337.5 212.0L338.0 211.1L338.5 214.8L339.0 212.0L339.5 210.7L340.0 211.9L340.5 210.3L341.0 210.7L341.5 212.3L342.0 211.0L342.5 211.2L343.0 214.1L343.5 213.0L344.0 212.9L344.5 212.5L345.0 212.5L345.5 213.8L346.0 211.8L346.5 214.4L347.0 210.5L347.5 211.4L348.0 209.9L348.5 211.3L349.0 212.5L349.5 213.8L350.0 210.9L350.5 211.8L351.0 211.3L351.5 210.8L352.0 210.1L352.5 211.9L353.0 209.4L353.5 211.9L354.0 211.8L354.5 210.9L355.0 210.4L355.5 209.9L356.0 214.4L356.5 209.9L357.0 214.0L357.5 212.6L358.0 211.3L358.5 210.2L359.0 213.3L359.5 214.2L360.0 210.5L360.5 211.4L361.0 213.3L361.5 212.3L362.0 214.6L362.5 211.0L363.0 212.6L363.5 210.0L364.0 214.7L364.5 210.8L365.0 208.7L365.5 211.6L366.0 211.6L366.5 214.5L367.0 211.3L367.5 211.8L368.0 212.6L368.5 214.0L369.0 211.7L369.5 213.3L370.0 212.5L370.5 211.4L371.0 211.9L371.5 211.8L372.0 210.5L372.5 213.5L373.0 209.9L373.5 213.4L374.0 213.1L374.5 211.7L375.0 210.7L375.5 211.5L376.0 212.5L376.5 212.8L377.0 212.2L377.5 213.2L378.0 211.0L378.5 212.1L379.0 209.6L379.5 212.9L380.0 212.0L380.5 211.2L381.0 213.4L381.5 212.8L382.0 207.9L382.5 211.9L383.0 209.8L383.5 213.3L384.0 215.3L384.5 211.1L385.0 211.9L385.5 211.4L386.0 212.3L386.5 212.7L387.0 213.6L387.5 210.4L388.0 214.0L388.5 210.5L389.0 212.2L389.5 213.4L390.0 212.8L390.5 210.5L391.0 210.8L391.5 211.1L392.0 211.7L392.5 213.4L393.0 210.0L393.5 212.4L394.0 212.6L394.5 212.6L395.0 212.4L395.5 213.9L396.0 212.5L396.5 213.0" fill="none" stroke="#ff22ff" stroke-width="3.8" stroke-linejoin="round" stroke-linecap="round"/>
<path d="M37.5 222.6L38.0 224.4L38.5 219.3L39.0 223.8L39.5 221.7L40.0 221.8L40.5 220.9L41.0 219.7L41.5 221.8L42.0 221.5L42.5 223.2L43.0 220.5L43.5 224.6L44.0 223.1L44.5 222.4L45.0 221.8L45.5 221.8L46.0 221.4L46.5 222.3L47.0 223.1L47.5 222.9L48.0 221.2L48.5 222.9L49.0 222.1L49.5 223.7L50.0 226.1L50.5 224.4L51.0 223.2L51.5 221.4L52.0 221.8L52.5 221.5L53.0 224.9L53.5 222.9L54.0 224.1L54.5 223.3L55.0 224.3L55.5 226.2L56.0 223.4L56.5 223.9L57.0 223.3L57.5 225.8L58.0 223.2L58.5 223.1L59.0 222.8L59.5 222.9L60.0 225.6L60.5 228.6L61.0 223.6L61.5 226.4L62.0 225.5L62.5 223.7L63.0 224.9L63.5 225.0L64.0 224.5L64.5 228.2L65.0 222.9L65.5 226.2L66.0 226.2L66.5 225.0L67.0 226.1L67.5 227.1L68.0 226.2L68.5 226.6L69.0 227.1L69.5 223.3L70.0 228.3L70.5 229.5L71.0 227.8L71.5 227.9L72.0 224.5L72.5 226.4L73.0 225.5L73.5 225.9L74.0 228.1L74.5 225.7L75.0 226.7L75.5 224.3L76.0 226.8L76.5 227.2L77.0 226.2L77.5 226.2L78.0 229.9L78.5 225.6L79.0 225.9L79.5 226.3L80.0 229.2L80.5 230.5L81.0 228.1L81.5 226.7L82.0 227.1L82.5 229.3L83.0 226.6L83.5 229.9L84.0 229.9L84.5 228.1L85.0 229.0L85.5 229.2L86.0 230.4L86.5 226.8L87.0 229.9L87.5 227.8L88.0 227.3L88.5 228.6L89.0 228.2L89.5 227.2L90.0 226.3L90.5 227.3L91.0 230.7L91.5 231.5L92.0 229.7L92.5 230.5L93.0 228.1L93.5 228.8L94.0 229.3L94.5 227.5L95.0 227.6L95.5 229.2L96.0 228.7L96.5 227.6L97.0 229.7L97.5 228.8L98.0 230.7L98.5 229.3L99.0 228.9L99.5 229.5L100.0 229.1L100.5 228.5L101.0 228.9L101.5 230.5L102.0 230.4L102.5 231.3L103.0 227.2L103.5 229.0L104.0 229.0L104.5 229.8L105.0 229.0L105.5 228.9L106.0 230.8L106.5 229.9L107.0 228.1L107.5 231.6L108.0 231.1L108.5 229.0L109.0 230.9L109.5 228.8L110.0 231.4L110.5 229.5L111.0 228.7L111.5 229.3L112.0 228.8L112.5 230.1L113.0 230.1L113.5 229.9L114.0 229.1L114.5 224.7L115.0 230.0L115.5 227.2L116.0 230.2L116.5 231.4L117.0 230.2L117.5 229.2L118.0 229.5L118.5 229.5L119.0 228.9L119.5 228.8L120.0 228.3L120.5 231.2L121.0 229.4L121.5 230.7L122.0 228.9L122.5 229.3L123.0 228.8L123.5 229.5L124.0 229.9L124.5 228.9L125.0 227.4L125.5 226.9L126.0 230.0L126.5 226.9L127.0 226.5L127.5 228.4L128.0 227.2L128.5 225.6L129.0 223.4L129.5 225.6L130.0 221.6L130.5 219.6L131.0 216.1L131.5 211.4" fill="none" stroke="#0000f0" stroke-width="3.8" stroke-linejoin="round" stroke-linecap="round"/>
<path d="M130.5 219.6L131.0 216.1L131.5 211.4L132.0 206.2L132.5 199.1L133.0 185.9L133.5 164.0L134.0 131.7L134.5 105.6L135.0 118.6L135.5 152.2L136.0 178.9L136.5 195.3L137.0 206.5L137.5 211.9L138.0 215.2L138.5 218.0" fill="none" stroke="#0000f0" stroke-width="2.4" stroke-linejoin="round" stroke-linecap="round"/>
<path d="M138.0 215.2L138.5 218.0L139.0 217.4L139.5 222.4L140.0 224.4L140.5 227.1L141.0 227.6L141.5 228.4L142.0 228.6L142.5 229.8L143.0 231.4L143.5 228.3L144.0 229.5L144.5 228.6L145.0 233.1L145.5 232.9L146.0 232.4L146.5 229.9L147.0 232.0L147.5 231.6L148.0 232.2L148.5 232.0L149.0 233.2L149.5 232.0L150.0 233.9L150.5 233.2L151.0 232.5L151.5 232.9L152.0 232.5L152.5 234.4L153.0 232.9L153.5 233.8L154.0 232.9L154.5 231.5L155.0 234.9L155.5 232.2L156.0 234.7L156.5 234.4L157.0 231.6L157.5 232.6L158.0 233.3L158.5 232.9L159.0 232.5L159.5 235.2L160.0 233.9L160.5 234.8L161.0 233.7L161.5 234.8L162.0 233.4L162.5 234.4L163.0 235.3L163.5 234.6L164.0 234.0L164.5 233.1L165.0 234.9L165.5 235.2L166.0 234.4L166.5 233.7L167.0 235.6L167.5 238.4L168.0 234.5L168.5 235.4L169.0 235.5L169.5 231.4L170.0 235.2L170.5 234.1L171.0 237.1L171.5 234.8L172.0 234.1L172.5 234.9L173.0 235.5L173.5 234.5L174.0 235.3L174.5 233.5L175.0 235.1L175.5 236.5L176.0 238.2L176.5 236.5L177.0 235.9L177.5 237.2L178.0 237.0L178.5 238.0L179.0 237.2L179.5 235.5L180.0 236.1L180.5 236.0L181.0 236.2L181.5 236.1L182.0 234.7L182.5 232.9L183.0 234.9L183.5 233.1L184.0 236.0L184.5 236.0L185.0 233.6L185.5 237.0L186.0 237.3L186.5 236.2L187.0 238.4L187.5 238.7L188.0 234.5L188.5 237.6L189.0 236.8L189.5 236.8L190.0 237.6L190.5 235.3L191.0 235.5L191.5 235.2L192.0 235.3L192.5 236.2L193.0 234.4L193.5 234.9L194.0 237.2L194.5 236.4L195.0 237.0L195.5 233.9L196.0 235.4L196.5 235.8L197.0 236.6L197.5 235.8L198.0 237.9L198.5 236.5L199.0 236.7L199.5 236.7L200.0 237.7L200.5 236.1L201.0 238.3L201.5 237.4L202.0 237.0L202.5 236.8L203.0 237.5L203.5 238.2L204.0 238.2L204.5 237.4L205.0 238.1L205.5 237.1L206.0 238.7L206.5 236.9L207.0 234.0L207.5 238.8L208.0 237.1L208.5 235.4L209.0 236.7L209.5 235.8L210.0 240.0L210.5 237.8L211.0 234.9L211.5 237.9L212.0 236.6L212.5 239.8L213.0 235.7L213.5 234.0L214.0 237.3L214.5 236.7L215.0 236.6L215.5 234.2L216.0 237.8L216.5 239.6L217.0 234.6L217.5 238.9L218.0 236.5L218.5 240.6L219.0 237.9L219.5 237.1L220.0 238.9L220.5 238.1L221.0 236.5L221.5 238.4L222.0 236.7L222.5 234.9L223.0 240.3L223.5 236.9L224.0 236.6L224.5 237.9L225.0 235.3L225.5 235.6L226.0 236.8L226.5 236.8L227.0 237.6L227.5 239.1L228.0 236.9L228.5 238.2L229.0 238.4L229.5 236.1L230.0 237.9L230.5 236.3L231.0 239.1L231.5 238.3L232.0 237.7L232.5 235.8L233.0 237.8L233.5 236.6L234.0 238.7L234.5 237.5L235.0 236.6L235.5 239.0L236.0 238.7L236.5 236.9L237.0 239.4L237.5 237.4L238.0 237.4L238.5 238.0L239.0 236.8L239.5 237.2L240.0 237.6L240.5 240.0L241.0 240.0L241.5 237.5L242.0 240.1L242.5 237.8L243.0 238.4L243.5 239.1L244.0 238.3L244.5 241.2L245.0 238.2L245.5 236.1L246.0 239.5L246.5 237.0L247.0 237.0L247.5 233.1L248.0 238.4L248.5 237.9L249.0 237.5L249.5 237.4L250.0 238.0L250.5 235.2L251.0 236.2L251.5 233.5L252.0 233.8L252.5 235.6L253.0 234.6L253.5 232.3L254.0 234.8L254.5 234.3L255.0 233.8L255.5 235.9L256.0 235.1L256.5 233.9L257.0 234.9L257.5 239.3L258.0 235.0L258.5 237.7L259.0 238.5L259.5 238.7L260.0 236.2L260.5 237.6L261.0 238.3L261.5 239.3L262.0 237.3L262.5 236.6L263.0 239.6L263.5 239.8L264.0 238.7L264.5 237.4L265.0 238.8L265.5 238.4L266.0 239.4L266.5 236.5L267.0 238.4L267.5 238.0L268.0 236.7L268.5 238.6L269.0 238.3L269.5 237.7L270.0 238.8L270.5 236.3L271.0 238.2L271.5 238.9L272.0 238.7L272.5 239.8L273.0 236.6L273.5 236.2L274.0 238.6L274.5 238.9L275.0 241.3L275.5 239.1L276.0 237.1L276.5 239.4L277.0 237.1L277.5 236.2L278.0 241.9L278.5 238.7L279.0 239.3L279.5 239.1L280.0 240.8L280.5 238.7L281.0 240.0L281.5 236.8L282.0 236.3L282.5 240.3L283.0 240.3L283.5 239.0L284.0 238.5L284.5 238.4L285.0 237.1L285.5 240.1L286.0 238.6L286.5 238.0L287.0 237.4L287.5 237.8L288.0 236.4L288.5 236.0L289.0 232.7L289.5 234.5L290.0 236.5L290.5 232.6L291.0 233.2L291.5 235.0L292.0 235.7L292.5 235.9L293.0 233.4L293.5 237.0L294.0 235.2L294.5 236.2L295.0 238.4L295.5 237.5L296.0 239.2L296.5 242.6L297.0 239.3L297.5 239.3L298.0 237.0L298.5 237.4L299.0 236.8L299.5 237.5L300.0 236.8L300.5 237.4L301.0 238.0L301.5 236.9L302.0 236.3L302.5 236.4L303.0 238.9L303.5 238.4L304.0 239.7L304.5 239.8L305.0 237.8L305.5 239.2L306.0 236.3L306.5 241.5L307.0 240.0L307.5 238.0L308.0 236.7L308.5 238.8L309.0 235.7L309.5 237.2L310.0 239.3L310.5 238.4L311.0 237.6L311.5 239.6L312.0 236.8L312.5 238.7L313.0 237.6L313.5 237.1L314.0 238.9L314.5 236.9L315.0 241.0L315.5 237.5L316.0 241.1L316.5 236.8L317.0 239.1L317.5 236.6L318.0 236.4L318.5 238.5L319.0 239.2L319.5 236.5L320.0 239.9L320.5 237.2L321.0 238.5L321.5 238.8L322.0 239.1L322.5 235.8L323.0 240.6L323.5 239.1L324.0 237.7L324.5 236.9L325.0 235.9L325.5 236.4L326.0 239.1L326.5 237.8L327.0 236.7L327.5 237.6L328.0 240.5L328.5 237.8L329.0 237.5L329.5 240.2L330.0 238.9L330.5 238.4L331.0 237.4L331.5 236.1L332.0 236.7L332.5 237.6L333.0 238.0L333.5 238.8L334.0 239.1L334.5 238.6L335.0 238.6L335.5 236.9L336.0 235.3L336.5 237.6L337.0 237.0L337.5 237.4L338.0 237.9L338.5 236.6L339.0 236.7L339.5 238.2L340.0 238.5L340.5 237.4L341.0 239.0L341.5 238.0L342.0 236.9L342.5 238.4L343.0 240.9L343.5 237.3L344.0 239.9L344.5 240.2L345.0 240.4L345.5 237.1L346.0 241.1L346.5 238.5L347.0 237.9L347.5 238.0L348.0 239.1L348.5 238.4L349.0 238.0L349.5 240.1L350.0 237.3L350.5 236.8L351.0 239.4L351.5 239.3L352.0 239.8L352.5 236.8L353.0 239.8L353.5 239.0L354.0 240.8L354.5 236.5L355.0 238.6L355.5 237.9L356.0 236.1L356.5 237.3L357.0 239.9L357.5 237.6L358.0 237.3L358.5 239.5L359.0 239.7L359.5 239.7L360.0 237.2L360.5 238.2L361.0 239.7L361.5 237.4L362.0 237.2L362.5 239.5L363.0 240.5L363.5 236.7L364.0 234.7L364.5 236.3L365.0 236.9L365.5 238.1L366.0 239.2L366.5 238.1L367.0 237.3L367.5 238.5L368.0 236.9L368.5 238.2L369.0 237.4L369.5 242.0L370.0 239.4L370.5 237.1L371.0 236.9L371.5 237.7L372.0 236.0L372.5 237.3L373.0 237.3L373.5 239.5L374.0 237.7L374.5 237.2L375.0 236.4L375.5 236.6L376.0 238.2L376.5 238.0L377.0 239.9L377.5 237.4L378.0 239.8L378.5 238.7L379.0 238.3L379.5 235.5L380.0 236.5L380.5 239.3L381.0 240.3L381.5 238.6L382.0 239.4L382.5 237.7L383.0 237.8L383.5 237.4L384.0 239.7L384.5 238.8L385.0 238.0L385.5 237.8L386.0 239.1L386.5 238.7L387.0 237.1L387.5 240.7L388.0 238.7L388.5 238.3L389.0 240.4L389.5 239.7L390.0 238.2L390.5 239.0L391.0 236.8L391.5 237.4L392.0 235.1L392.5 240.0L393.0 235.6L393.5 239.2L394.0 237.1L394.5 236.9L395.0 238.0L395.5 238.7L396.0 239.2L396.5 240.8" fill="none" stroke="#0000f0" stroke-width="3.8" stroke-linejoin="round" stroke-linecap="round"/>
<rect x="36.8" y="3.6" width="360.6" height="265.4" fill="none" stroke="#000" stroke-width="1.9"/>
<line x1="36.2" y1="269" x2="36.2" y2="274.8" stroke="#000" stroke-width="1.6"/>
<line x1="96.5" y1="269" x2="96.5" y2="274.8" stroke="#000" stroke-width="1.6"/>
<line x1="156.8" y1="269" x2="156.8" y2="274.8" stroke="#000" stroke-width="1.6"/>
<line x1="217.1" y1="269" x2="217.1" y2="274.8" stroke="#000" stroke-width="1.6"/>
<line x1="277.4" y1="269" x2="277.4" y2="274.8" stroke="#000" stroke-width="1.6"/>
<line x1="337.7" y1="269" x2="337.7" y2="274.8" stroke="#000" stroke-width="1.6"/>
<line x1="398.0" y1="269" x2="398.0" y2="274.8" stroke="#000" stroke-width="1.6"/>
<line x1="66.4" y1="269" x2="66.4" y2="271.8" stroke="#000" stroke-width="1.6"/>
<line x1="126.7" y1="269" x2="126.7" y2="271.8" stroke="#000" stroke-width="1.6"/>
<line x1="186.9" y1="269" x2="186.9" y2="271.8" stroke="#000" stroke-width="1.6"/>
<line x1="247.2" y1="269" x2="247.2" y2="271.8" stroke="#000" stroke-width="1.6"/>
<line x1="307.6" y1="269" x2="307.6" y2="271.8" stroke="#000" stroke-width="1.6"/>
<line x1="367.9" y1="269" x2="367.9" y2="271.8" stroke="#000" stroke-width="1.6"/>
<line x1="102.5" y1="28" x2="102.5" y2="42" stroke="#000" stroke-width="2.2"/>
<line x1="250.4" y1="28" x2="250.4" y2="42" stroke="#000" stroke-width="2.2"/>
<line x1="288.8" y1="28" x2="288.8" y2="42" stroke="#000" stroke-width="2.2"/>
<line x1="122.8" y1="116.5" x2="123.3" y2="132" stroke="#000" stroke-width="1.3"/>
<path d="M121.2 130.5 L125.2 130.8 L123.5 137.5 Z" fill="#000"/>
<line x1="500.2" y1="2.5" x2="500.2" y2="274" stroke="#a8a8a8" stroke-width="1.1"/>
<line x1="574.1" y1="2.5" x2="574.1" y2="274" stroke="#a8a8a8" stroke-width="1.1"/>
<line x1="537.2" y1="2.5" x2="537.2" y2="274" stroke="#c8c8c8" stroke-width="1" stroke-dasharray="1.5 2"/>
<line x1="611.1" y1="2.5" x2="611.1" y2="274" stroke="#c8c8c8" stroke-width="1" stroke-dasharray="1.5 2"/>
<line x1="521.8" y1="31" x2="521.8" y2="274" stroke="#666" stroke-width="1" stroke-dasharray="1.2 2.2"/>
<line x1="543.6" y1="31" x2="543.6" y2="274" stroke="#666" stroke-width="1" stroke-dasharray="1.2 2.2"/>
<path d="M463.0 105.1L463.8 104.9L464.6 105.6L465.6 105.3L465.5 105.4L466.0 104.4L466.2 102.3L467.8 104.3L468.0 103.0L468.0 102.8L467.9 101.1L468.6 101.9L469.8 101.4L469.7 101.9L470.9 99.9L471.2 101.4L471.6 101.2L472.3 99.4L472.7 99.7L472.6 99.2L473.3 101.0L475.1 96.5L473.9 98.9L474.8 96.9L476.0 98.2L475.9 99.5L476.1 97.3L476.4 98.0L477.8 96.5L478.5 99.7L479.2 98.1L479.0 98.1L480.0 94.7L479.5 94.7L480.6 97.3L480.7 95.3L481.6 94.9L482.4 95.4L483.0 93.0L482.5 95.4L484.1 94.1L483.8 94.4L484.0 92.6L484.9 93.9L484.7 91.9L486.0 93.8L486.6 93.7L486.9 93.1L487.8 92.2L487.8 92.0L488.5 86.9L488.2 91.5L489.5 89.5L489.5 89.6L490.3 88.7L491.0 86.6L491.6 87.4L491.1 88.6L491.7 89.2L492.8 85.7L493.8 84.7L494.2 87.7L495.0 83.6L495.7 87.5L495.8 83.8L496.0 81.7L495.9 84.0L496.5 84.4L497.2 78.8L498.2 82.9L498.6 79.3L499.0 81.4L499.4 77.6L500.4 74.9L500.6 77.5L501.2 77.4L501.7 78.5L501.7 76.9L501.9 74.1L503.3 71.5L503.8 70.0L503.9 69.5L504.2 67.6L506.4 67.6L505.0 62.5L505.9 66.6L506.7 65.3L506.3 69.3L507.6 65.0L509.2 61.7L509.1 62.8L509.4 58.4L509.9 58.7L510.1 55.3L511.1 61.0L510.9 58.3L511.2 53.6L512.1 54.9L513.1 56.0L513.2 54.2L514.0 53.1L512.6 49.8L515.3 49.7L516.6 50.9L516.4 52.3L515.8 48.1L515.9 47.1L517.2 51.8L516.8 46.9L518.5 51.0L518.1 48.9L519.6 50.1L520.4 51.8L518.6 49.4L520.7 49.4L520.5 45.6L520.5 46.1L521.6 49.1L522.4 51.2L523.7 51.0L522.5 53.3L524.7 49.1L525.9 49.1L525.4 51.0L525.9 49.0L526.0 48.9L525.7 46.6L527.4 50.8L527.8 45.9L528.5 48.9L530.2 44.1L529.5 49.2L529.8 44.0L531.1 47.9L529.6 42.2L530.2 44.5L531.2 48.0L531.6 43.3L533.0 45.2L532.8 43.7L534.7 39.4L535.0 45.2L535.0 45.2L534.7 41.5L535.9 45.0L536.5 41.4L535.8 40.4L537.2 42.3L538.0 40.2L538.1 46.7L539.6 37.4L539.8 42.7L538.9 43.4L540.1 36.8L539.9 37.9L541.4 43.9L540.9 42.3L542.6 45.1L542.8 47.7L543.7 45.2L543.4 44.6L543.0 42.2L545.7 50.1L544.9 49.3L546.4 53.7L546.3 55.4L547.0 54.0L548.2 62.4L547.7 63.1L548.9 64.7L547.5 62.8L549.6 66.3L549.3 67.9L549.9 70.0L550.5 70.6L551.2 75.3L552.5 77.0L550.9 79.3L552.5 80.0L552.6 85.0L554.2 85.2L553.8 82.7L554.7 87.8L554.8 90.3L555.9 93.3L556.5 92.9L556.3 94.1L557.0 94.4L556.8 97.0L558.2 96.3L558.9 96.7L558.7 97.2L560.1 99.5L559.0 98.6L559.6 97.6L560.3 101.0L561.3 99.7L562.0 101.5L562.5 101.8L563.0 103.2L563.9 103.4L563.8 101.7L563.9 102.5L564.4 101.4L566.5 105.3L564.9 104.0L566.4 105.4L567.7 103.5L567.7 101.6L567.6 106.1L568.5 104.6L569.4 104.8L570.1 104.9L569.6 105.8L570.9 105.8L571.1 103.5L572.0 106.8L572.7 105.1L572.3 105.3L572.3 108.1L573.7 107.3L574.8 106.0L574.8 104.4L575.1 106.9L576.6 107.5L575.5 106.9L576.9 105.7L576.7 106.4L577.5 106.0L578.0 107.9L579.2 108.8L578.6 109.1L579.3 107.3L579.3 108.5L580.7 109.0L580.8 107.9L581.7 108.5L581.5 111.2L582.3 109.2L583.5 110.1L583.4 108.7L584.3 109.4L584.7 107.5L584.8 109.5L584.8 111.0L586.5 112.2L586.6 111.3L587.4 110.8L586.6 110.2L587.2 109.6L587.5 110.2L588.6 111.1L590.0 109.7L590.3 111.7L590.5 109.7L591.1 108.9L591.8 109.8L591.9 109.2L592.7 109.6L593.1 112.4L592.5 111.0L593.8 111.6L595.1 112.7L594.8 112.9L595.4 111.0L595.7 113.1L596.3 112.1L597.5 111.7L597.4 112.3L597.5 110.3L597.1 111.0L598.7 111.8L598.6 112.6L599.2 111.6L600.9 111.9L601.3 113.1L600.6 113.7L602.4 113.0L602.7 113.6L602.6 111.8L603.8 111.9L603.3 112.6L604.0 112.0L604.4 111.8L605.0 114.2L606.4 112.2L605.9 111.4L606.5 113.0L607.1 114.5L608.1 112.6L608.3 113.9L609.4 112.1L609.2 112.1L609.4 111.9L610.3 112.5L611.0 114.7L611.1 111.4L612.1 114.5L613.3 111.6L612.7 112.5L613.5 113.7L614.6 113.5L614.2 113.1L614.6 111.0L615.0 113.3L616.2 111.8L616.7 115.7L616.9 112.7L617.5 113.2L618.6 111.7L618.9 112.5L618.4 111.6L619.5 114.1L620.0 112.8L620.8 113.7L620.9 112.3L621.2 112.6L621.8 114.5L621.7 112.1L623.0 111.2L623.2 113.6L624.2 111.9L624.0 112.7L624.8 114.2L625.0 112.3L625.5 114.2L626.8 112.5L626.8 114.9L627.7 114.8L627.5 112.8L628.5 113.1L628.2 112.4L629.3 113.6L629.8 114.7L630.7 111.8L631.1 114.4L631.4 112.0L632.4 112.5L632.6 111.5L633.2 115.8L633.8 113.6L634.0 113.8L634.3 112.8L635.1 114.7L635.3 111.2L636.2 113.6L637.0 116.0L637.4 113.2L637.3 113.6L637.4 114.4L638.5 112.8L638.9 113.7L640.0 114.7L639.8 113.9L640.4 114.1L641.3 113.4L641.3 114.1L641.9 113.8L643.2 115.4L643.6 114.6L643.8 113.6L644.1 111.2L644.0 114.6L645.2 114.7L645.5 112.9L646.1 111.7L646.2 112.7L647.0 115.0" fill="none" stroke="#000" stroke-width="3.6" stroke-linejoin="round"/>
<path d="M463.2 140.7L463.4 141.3L463.8 142.5L465.2 141.3L465.8 139.1L466.1 139.8L466.6 139.2L466.7 140.0L467.6 141.5L467.3 141.3L468.5 140.2L469.6 141.2L470.1 140.1L469.8 139.3L470.3 139.3L471.6 139.9L472.3 142.4L471.3 139.4L472.3 142.2L473.1 142.3L474.0 140.7L473.6 140.8L474.8 140.2L474.8 140.8L476.6 141.6L476.2 140.8L476.4 141.9L476.8 142.1L478.0 141.2L478.3 141.2L478.0 140.7L479.1 141.2L478.9 139.6L479.6 141.2L479.9 141.0L480.4 139.8L481.2 143.2L481.5 139.7L482.7 139.8L483.3 141.1L483.4 138.6L483.5 139.9L484.8 139.1L484.1 139.7L484.6 140.6L486.3 141.1L486.8 141.9L487.4 141.6L487.4 142.0L487.4 141.4L488.2 140.2L489.2 141.9L489.1 140.1L489.7 140.0L489.8 142.3L490.5 141.5L491.9 140.9L492.2 141.5L492.0 141.6L492.5 139.1L493.2 140.5L494.2 139.3L493.9 140.7L494.9 139.8L494.5 142.0L495.4 141.0L496.7 139.4L497.4 140.2L497.0 138.7L497.6 139.9L498.8 140.3L498.8 139.8L499.2 137.0L500.2 138.6L500.6 139.3L501.5 138.8L501.9 139.5L501.7 136.3L502.4 138.1L503.0 136.4L502.8 137.1L503.5 137.0L504.9 137.1L504.2 135.2L506.0 135.9L506.1 133.9L506.4 133.3L507.2 135.4L507.7 134.3L508.6 132.1L508.3 132.7L508.9 133.4L509.4 134.9L510.9 133.9L510.9 133.1L510.5 129.4L511.3 131.0L511.6 131.2L512.5 130.4L513.1 129.8L514.6 128.2L513.0 130.1L515.0 128.6L515.2 124.7L515.1 121.3L515.9 123.4L516.2 117.2L517.0 117.8L518.1 117.0L517.1 110.3L519.3 110.3L518.8 107.2L520.4 106.7L520.2 104.4L521.3 105.4L521.3 101.0L522.2 98.0L522.0 98.5L521.9 94.1L523.4 92.2L524.0 95.7L525.4 87.5L523.1 85.9L524.8 84.4L526.2 78.9L525.1 73.2L526.3 76.9L528.4 69.0L528.4 66.0L527.4 63.0L529.4 58.3L529.8 55.2L530.0 56.1L530.2 60.3L530.6 54.5L530.4 53.3L531.1 46.0L532.5 49.2L532.6 45.1L534.2 49.7L533.3 46.1L532.4 45.9L534.3 44.6L535.2 42.1L535.7 38.0L536.0 42.6L535.9 35.1L538.0 34.3L537.0 36.1L538.5 35.2L538.3 42.7L538.2 52.1L540.4 57.5L538.3 62.4L539.9 64.7L541.3 69.2L541.2 64.7L542.5 72.0L542.4 70.7L542.7 71.6L544.9 75.9L543.8 76.4L544.4 79.9L544.3 82.3L545.0 76.0L546.4 82.2L546.9 87.7L547.0 86.4L547.0 88.7L548.4 86.8L547.3 84.6L548.8 86.2L549.3 90.9L549.4 92.3L550.6 89.7L550.5 91.6L550.9 93.5L553.2 90.5L553.0 94.2L553.8 99.0L553.5 101.1L554.6 97.7L555.0 102.3L555.8 98.8L557.0 99.3L555.8 97.6L556.7 104.5L557.0 103.1L555.3 109.0L557.1 106.5L558.5 107.4L559.4 105.2L559.2 112.2L560.7 110.5L561.2 112.2L560.8 110.2L562.3 116.5L563.0 117.7L562.8 116.2L562.4 118.1L564.3 119.1L563.9 120.6L564.3 119.8L565.1 122.7L565.2 120.2L566.6 120.1L566.9 120.7L567.7 118.0L567.8 120.9L567.6 123.9L568.4 123.2L569.5 122.0L569.3 124.1L571.6 121.1L570.4 124.0L570.7 125.7L572.1 126.5L572.4 125.0L572.5 128.1L572.9 130.1L573.7 127.7L574.4 130.0L574.9 127.5L574.8 127.6L575.7 131.4L576.4 131.0L576.9 131.4L575.5 130.6L577.1 131.2L577.6 132.9L578.4 134.2L579.1 131.9L580.0 130.3L580.3 134.2L580.4 133.5L581.0 133.8L582.4 133.3L581.7 136.1L582.6 133.4L583.8 134.1L583.7 131.3L583.0 133.0L584.7 133.0L584.8 133.9L585.4 134.5L586.5 133.2L586.7 136.4L586.9 133.0L587.9 133.9L588.2 134.9L588.6 133.1L589.1 135.4L589.6 135.6L589.8 134.6L590.3 137.4L591.0 135.2L591.0 135.5L591.4 134.1L593.1 133.3L592.9 134.7L593.5 135.1L593.9 135.1L594.5 136.6L595.0 132.9L595.5 134.5L595.6 133.8L596.9 137.7L596.7 135.5L598.0 135.7L597.1 135.1L598.0 137.6L599.5 136.2L599.4 137.1L599.7 134.5L600.7 138.5L600.5 137.7L601.5 138.0L601.0 139.0L602.3 137.5L602.7 137.7L603.8 138.9L604.4 138.7L604.1 138.1L605.8 138.6L605.2 138.1L605.0 139.7L605.4 140.1L607.7 139.2L607.5 141.5L607.7 137.7L608.2 139.3L608.5 141.7L610.1 139.4L610.0 138.1L611.3 141.6L610.9 140.8L610.4 138.9L612.4 141.2L612.3 139.2L612.9 138.9L614.2 140.4L613.9 140.1L615.0 139.5L615.0 140.4L615.2 139.7L616.2 141.0L616.2 141.0L617.6 141.9L617.9 140.6L618.0 139.7L618.8 139.8L619.3 141.0L619.4 143.1L620.4 142.4L620.4 140.8L621.3 142.6L621.1 140.3L622.0 142.8L622.7 141.3L622.6 142.7L623.3 142.5L623.8 141.6L624.8 142.3L624.7 140.8L625.7 142.0L626.7 143.3L626.7 146.8L626.3 143.0L627.6 142.4L628.5 141.2L628.4 143.6L629.5 140.6L629.8 141.6L630.2 143.0L630.4 141.3L630.8 144.4L631.4 144.0L632.0 142.2" fill="none" stroke="#000" stroke-width="3.6" stroke-linejoin="round"/>
<path d="M464.4 173.6L463.8 173.4L464.3 172.6L464.2 173.0L465.6 173.3L466.4 171.0L466.4 172.0L467.5 171.9L467.5 172.5L468.7 172.4L468.7 172.4L468.5 171.7L469.2 173.4L469.3 173.0L469.7 170.8L471.1 172.6L471.9 171.3L472.9 174.5L472.5 172.0L472.9 172.1L473.0 172.6L474.4 172.3L474.7 172.4L474.7 174.2L475.8 172.7L476.3 173.3L475.7 173.6L477.3 171.3L477.6 174.2L477.8 173.1L478.3 173.4L479.8 171.3L480.2 173.2L480.8 172.7L480.0 171.6L480.7 174.7L481.9 172.8L481.5 171.9L482.2 172.3L482.2 173.1L484.3 173.3L484.5 172.7L484.7 173.4L485.1 173.6L485.3 170.5L485.8 171.3L486.8 170.8L486.7 171.9L488.1 173.4L487.8 172.5L488.1 170.5L489.6 171.3L489.4 172.8L490.3 171.0L490.3 171.4L490.0 171.8L491.8 169.4L491.4 172.3L493.0 171.7L492.3 171.9L492.6 170.1L494.1 170.3L494.7 170.4L495.0 171.3L494.9 171.0L496.4 171.0L495.8 172.8L496.8 172.1L497.1 169.6L497.8 169.5L498.9 172.0L498.7 169.4L499.8 171.1L500.3 171.1L499.7 168.4L500.5 168.4L501.3 168.5L501.7 167.1L502.6 166.6L502.1 166.9L503.8 168.1L504.4 166.2L504.4 166.1L504.3 165.4L505.5 163.9L505.7 167.1L506.8 161.8L507.0 163.5L507.9 164.5L507.8 161.4L509.2 163.4L507.8 163.6L509.0 160.2L510.2 160.9L509.7 158.3L511.4 159.7L510.9 158.2L512.0 157.3L512.0 157.7L512.8 155.1L513.6 155.0L513.9 152.4L514.3 148.0L516.2 148.7L515.5 147.4L515.4 142.7L517.0 145.6L517.5 141.9L518.2 140.7L519.1 136.8L517.9 136.7L519.7 135.3L520.2 132.1L520.0 130.8L520.7 124.4L519.0 128.8L521.1 121.3L523.2 116.1L521.3 115.6L522.6 112.7L523.7 112.5L524.4 105.8L525.6 105.3L523.8 99.0L525.5 103.6L526.6 96.4L525.6 97.1L527.0 86.4L528.8 87.9L528.9 80.5L528.9 81.8L527.2 79.1L529.4 69.6L530.3 68.1L530.3 65.3L531.0 61.7L533.6 61.8L531.9 59.0L531.8 55.5L533.2 58.3L533.3 57.8L533.8 49.8L534.4 50.7L535.5 51.2L535.7 49.6L535.2 47.7L536.4 52.9L537.3 53.2L537.2 53.0L538.8 50.5L539.0 58.4L538.3 58.2L539.7 51.9L541.3 53.6L541.6 59.6L541.0 56.3L542.1 64.4L541.5 68.3L541.5 71.7L543.4 78.8L543.7 80.8L544.3 88.8L544.5 89.6L545.2 103.7L545.2 104.3L546.3 105.9L547.1 105.8L547.0 109.4L548.0 111.9L546.8 113.0L548.0 114.5L550.0 112.1L550.7 116.7L550.2 116.4L550.4 116.8L550.1 118.8L551.7 124.0L552.5 127.3L551.5 124.6L553.4 132.8L553.8 134.4L554.3 133.1L553.8 135.1L555.3 137.9L554.6 141.7L556.9 141.2L556.6 141.8L556.3 145.9L558.3 143.5L558.7 148.3L558.1 151.0L560.2 150.5L558.9 151.9L560.2 152.1L561.1 153.1L559.8 152.9L562.0 152.0L562.0 153.5L562.5 154.3L562.4 156.7L563.7 157.7L563.4 156.4L564.0 155.2L564.8 155.7L564.9 156.8L566.8 159.4L565.8 158.3L566.6 158.1L567.3 157.5L568.0 160.1L568.9 159.6L569.4 159.4L569.3 159.9L569.8 162.4L570.5 160.1L571.4 162.9L571.9 162.6L571.7 161.2L571.5 162.6L574.1 161.5L574.0 160.8L574.1 161.8L574.7 161.2L574.7 163.3L575.0 162.9L575.8 163.9L576.4 164.4L576.7 159.6L576.8 164.2L577.8 161.7L578.8 164.5L578.8 163.3L579.5 164.8L579.0 166.6L580.4 162.9L580.9 165.5L580.9 165.4L581.2 163.3L582.7 166.7L582.6 166.1L583.7 165.6L583.8 165.5L584.8 170.6L584.8 166.2L584.8 164.7L586.0 165.9L586.3 166.8L587.3 166.9L587.3 167.4L587.8 166.4L588.9 168.5L589.6 167.4L589.9 166.4L590.5 167.2L590.7 167.9L591.4 169.5L591.9 169.2L592.2 168.3L592.5 168.8L593.1 169.2L594.6 171.5L594.0 168.4L594.4 169.8L594.8 170.2L595.5 168.3L596.1 169.7L596.0 169.8L596.1 169.1L597.6 170.4L597.2 171.0L598.6 171.2L599.1 169.7L600.0 170.3L600.8 172.9L600.7 168.9L600.7 170.5L600.9 171.4L601.6 170.6L602.5 171.3L602.0 170.8L603.5 171.5L604.0 172.2L604.8 170.5L604.8 171.1L605.5 170.8L605.7 170.5L606.3 171.0L606.2 169.8L607.6 172.0L608.7 173.2L608.6 173.3L609.2 172.8L609.0 170.3L610.7 173.2L610.1 170.7L611.4 171.5L611.5 173.8L611.6 170.4L613.0 172.7L613.0 172.1L613.6 171.7L614.2 170.9L614.5 172.4L614.8 171.5L615.7 173.2L615.8 173.5L616.5 170.6L616.7 171.6L616.8 171.9L617.7 170.9L618.3 171.1L619.0 172.5L620.0 172.2L619.2 170.6L620.6 171.9L620.0 173.2L621.0 171.2L621.8 171.6L621.5 174.5L622.1 174.2L623.6 171.0L624.0 171.3L624.4 173.3L624.6 171.6L626.5 172.7L625.9 172.5L626.1 173.7L627.8 170.2L627.8 170.6L627.8 171.8L629.0 174.4L629.1 173.1L629.8 171.4L630.1 173.9L630.0 174.2L631.4 173.2L631.6 173.1L631.5 174.0L632.2 174.9L633.4 173.8L633.3 174.2L634.0 173.6L634.8 173.3L635.1 172.7L634.8 174.1L636.3 173.5L636.9 173.6L637.4 175.0L638.2 174.5L638.2 175.0L638.9 172.3L639.7 174.7L639.4 173.5L640.8 173.3L641.3 173.3L641.4 175.6L642.3 175.3L642.4 173.6L642.1 173.2L643.5 174.5L643.6 174.0L644.2 176.4L644.6 173.0L645.6 172.7L645.7 174.5L645.7 174.8L646.7 175.0L647.3 175.7" fill="none" stroke="#000" stroke-width="3.6" stroke-linejoin="round"/>
<path d="M464.3 203.2L463.9 203.4L464.2 203.4L465.3 203.2L465.7 204.2L465.1 204.9L466.6 205.8L466.4 205.0L467.2 204.8L468.4 204.9L468.1 205.0L469.2 203.1L469.4 204.2L470.9 203.8L470.5 203.3L470.5 202.9L471.0 202.8L471.6 203.0L472.6 201.9L473.0 203.8L474.0 203.2L474.1 203.3L474.6 203.5L475.2 203.9L475.5 202.4L476.2 202.9L476.9 201.2L477.4 200.5L477.3 200.8L477.2 204.6L478.2 200.8L479.2 203.4L478.4 204.5L479.8 202.2L480.7 204.6L480.8 204.8L481.0 203.7L482.8 205.3L483.2 203.3L482.9 201.7L484.1 203.1L484.6 201.9L484.0 200.9L486.3 200.9L485.1 204.9L485.9 201.6L486.0 202.2L487.1 201.4L486.9 202.2L488.0 201.7L489.0 201.5L489.1 200.5L489.4 200.2L490.7 200.9L490.1 202.0L491.5 204.0L491.4 202.8L492.1 203.6L492.5 202.0L493.1 201.3L493.5 199.7L493.7 201.2L494.3 198.6L495.2 200.7L495.5 202.8L495.5 201.2L496.2 202.0L496.7 200.1L497.5 198.8L498.1 199.6L498.6 199.6L498.7 201.3L499.5 202.0L499.4 198.5L499.2 198.7L501.0 198.7L500.7 198.2L501.6 196.8L501.9 198.1L503.3 198.2L502.9 197.9L504.2 195.6L504.3 196.6L504.4 194.2L504.7 197.2L506.2 194.3L506.7 194.9L507.4 194.3L508.4 193.7L508.1 192.7L508.7 191.3L508.9 195.4L509.6 192.9L509.8 192.3L510.1 194.1L512.0 190.4L510.5 190.5L512.1 189.0L512.7 189.8L513.1 187.9L513.0 186.7L513.9 184.9L514.3 184.7L514.4 185.0L515.5 179.0L515.8 180.9L516.2 179.2L517.4 178.0L516.9 173.8L518.3 176.6L518.1 172.3L519.3 171.6L519.5 169.2L520.1 165.2L519.9 165.4L520.5 160.9L520.9 160.3L522.1 159.2L523.0 157.3L523.7 155.0L523.2 152.1L524.1 154.6L523.4 148.7L523.5 142.7L524.9 141.7L525.5 139.2L525.4 138.0L525.8 134.7L527.9 132.0L527.5 136.1L527.4 130.3L530.6 127.7L529.6 126.2L529.8 124.7L530.9 127.3L530.5 123.3L532.6 123.5L531.0 110.4L531.6 118.0L532.9 118.4L533.0 119.4L534.9 112.6L533.4 106.4L534.5 111.8L535.6 107.4L536.4 102.9L537.2 105.3L537.2 109.2L539.0 108.7L537.7 106.5L538.6 100.5L539.6 110.5L539.3 99.0L539.8 102.0L540.2 97.8L540.5 106.2L540.7 103.9L541.6 105.7L541.4 104.0L543.2 104.3L542.4 105.9L545.4 100.8L545.6 110.1L545.7 110.7L545.3 107.9L545.6 110.1L547.3 112.2L547.1 117.0L547.8 115.2L547.5 115.6L549.2 115.6L548.4 114.5L549.5 118.5L548.8 122.0L550.0 123.0L551.3 125.8L551.2 129.5L551.7 130.8L553.0 132.5L552.9 135.5L554.3 136.4L552.3 137.8L554.8 140.9L555.3 137.9L554.4 146.7L555.1 143.0L557.1 149.6L556.2 149.8L557.0 154.0L558.4 153.6L558.2 153.5L559.3 159.2L558.9 159.2L560.2 160.8L561.2 162.4L561.2 165.9L560.1 167.3L562.4 167.9L562.5 166.4L562.4 170.2L564.3 172.7L562.9 177.1L565.6 176.2L564.6 176.9L566.4 180.3L565.9 179.5L565.7 180.8L567.0 182.2L567.7 180.6L568.3 185.1L569.0 185.1L568.5 184.7L569.7 184.1L570.4 186.8L570.3 189.1L570.5 186.8L571.0 186.8L572.4 189.4L572.9 187.1L572.5 186.8L572.8 189.8L574.6 189.9L573.7 190.9L575.1 191.0L575.1 192.6L575.1 192.2L576.5 192.1L576.9 192.7L578.2 194.5L579.1 195.3L578.4 195.5L579.5 195.6L580.0 190.7L579.7 194.0L580.0 195.2L581.8 196.2L581.3 194.1L582.0 198.3L582.3 197.2L582.9 196.3L583.2 197.6L584.3 197.2L585.1 197.0L584.8 198.9L584.8 197.9L586.0 197.0L585.8 198.3L586.7 199.2L588.1 198.2L589.1 201.3L588.7 198.7L588.5 202.4L589.8 201.6L588.9 199.6L590.1 201.1L591.7 202.6L591.8 201.2L591.3 200.2L591.7 201.9L593.4 204.3L593.5 200.4L593.7 203.0L594.7 202.5L594.7 202.5L594.6 202.4L596.3 202.6L596.2 204.3L596.5 203.9L596.9 202.2L598.1 205.2L598.1 202.0L599.3 204.4L599.4 203.9L600.5 205.2L600.3 204.3L600.7 205.1L600.6 203.9L601.5 205.1L602.8 204.5L604.4 206.6L602.9 203.4L603.5 205.6L604.6 204.8L605.2 204.6L605.2 203.8L606.0 205.0L605.7 202.9L606.8 203.0L607.9 205.4L608.7 202.9L608.4 206.4L608.9 204.5L609.7 205.1L610.5 204.9L610.7 205.4L610.6 204.6L611.6 204.6L612.4 204.9L612.2 206.3L612.4 206.4L613.7 206.6L614.1 205.6L614.9 205.0L615.0 203.4L615.2 206.0L615.8 206.3L616.0 204.9L616.5 206.3L617.2 206.9L617.8 205.6L619.0 206.7L618.4 205.9L619.5 203.6L619.7 205.1L621.1 205.2L621.1 206.2L621.3 204.7L622.3 205.2L622.5 204.7L622.8 205.7L624.2 205.9L624.3 206.9L625.3 206.7L625.5 206.0L625.8 206.2L626.0 206.0L626.0 206.1L627.3 207.7L627.5 203.2L628.3 205.8L628.5 206.4L628.7 207.3L629.0 204.9L630.3 206.5L631.1 207.1L630.9 205.7L631.7 204.1L632.6 205.8L632.1 204.9L632.8 207.0L633.0 205.3L634.5 208.3L634.6 206.5L634.8 205.5L634.7 205.8L635.9 205.2L636.9 206.9L636.8 208.1L637.3 206.2L638.3 207.5L637.9 205.5L639.0 206.9L639.8 209.1L639.6 205.0L640.1 208.0L641.1 208.0L641.4 204.6L641.9 205.1L642.6 205.7L643.1 207.8L643.1 206.3L643.7 206.6L644.7 207.6L645.5 207.0L646.1 207.2L645.6 206.6L647.0 208.2L647.3 206.2" fill="none" stroke="#000" stroke-width="3.6" stroke-linejoin="round"/>
<path d="M464.1 237.4L463.4 237.9L464.7 238.2L464.9 239.1L465.4 236.0L466.0 237.7L466.0 236.8L466.6 236.7L467.8 238.1L468.4 237.7L468.2 235.6L468.3 236.4L470.5 236.9L470.5 235.0L470.6 237.5L470.5 236.4L471.2 236.6L472.1 236.7L472.1 238.3L473.7 236.3L473.5 235.8L474.2 238.1L474.0 235.5L474.6 235.4L475.1 234.4L476.1 237.1L476.4 236.1L476.9 236.3L477.6 235.9L478.1 235.5L479.2 234.7L478.9 234.7L479.0 236.0L480.0 235.6L481.1 237.2L480.7 234.4L481.5 234.7L481.8 234.0L482.7 236.7L483.1 233.6L483.1 235.8L483.9 236.5L484.9 234.7L485.5 235.6L485.9 232.3L486.4 234.2L486.3 232.6L486.8 234.6L487.9 234.4L487.4 233.4L488.5 235.3L488.1 234.5L489.3 233.4L489.7 233.4L489.9 232.2L491.3 233.6L491.1 236.1L491.8 232.8L492.4 234.0L492.6 232.8L494.1 234.2L493.8 233.7L494.6 232.8L494.4 230.9L495.3 232.3L495.8 234.1L496.3 232.3L496.7 233.2L497.6 231.8L498.7 230.0L498.4 232.6L498.9 232.3L499.3 231.0L501.2 231.1L501.2 231.7L501.2 230.5L501.8 231.4L501.7 230.5L502.4 227.7L503.1 230.1L503.5 229.3L503.6 228.8L504.1 230.0L505.2 228.6L505.6 229.6L505.0 229.9L506.5 228.4L507.6 225.8L507.2 226.4L508.1 228.0L507.8 225.9L509.4 224.6L508.9 224.8L509.4 224.8L510.3 223.6L512.2 222.8L511.2 218.9L511.3 217.6L512.7 215.7L513.1 214.3L514.4 209.4L513.3 210.5L513.6 207.1L514.8 209.9L515.7 208.5L516.2 207.1L517.1 204.0L516.1 200.2L517.0 201.1L517.9 197.4L519.0 197.2L519.3 192.7L519.2 191.7L519.3 192.0L521.1 192.9L521.6 187.7L523.3 190.6L521.9 190.0L523.6 180.1L522.2 181.0L523.1 177.4L523.5 177.5L524.2 175.0L524.4 174.5L525.1 175.2L525.9 173.7L526.2 170.6L527.4 168.4L527.4 167.0L528.0 165.3L529.5 164.5L529.2 161.2L529.6 160.5L530.0 153.8L530.5 157.1L531.4 157.5L530.9 151.2L532.7 144.7L533.5 149.9L533.7 143.0L533.2 133.1L532.9 138.4L534.2 138.2L535.1 134.9L536.0 134.9L535.9 130.5L536.3 126.6L538.0 117.7L537.0 118.2L538.7 120.0L539.1 119.2L538.1 111.2L539.7 110.3L539.6 111.9L539.9 102.0L539.8 100.4L540.4 105.5L542.3 106.8L542.2 104.4L543.2 98.6L542.8 107.2L543.8 103.4L544.3 111.1L544.0 109.5L544.4 111.8L546.3 114.1L546.6 111.3L546.4 117.2L547.4 120.1L548.4 119.0L549.7 123.8L548.4 119.3L549.9 126.0L551.4 125.8L550.5 123.7L552.0 128.4L549.8 129.0L552.9 131.0L552.5 135.0L551.7 139.9L554.0 137.9L554.7 141.3L555.3 138.8L555.8 145.3L555.5 150.1L555.5 151.2L556.2 152.3L557.0 151.7L557.7 152.6L557.7 156.9L558.5 155.7L559.6 157.9L559.7 165.1L561.5 162.4L561.9 170.7L560.2 164.8L561.1 170.9L561.1 168.9L561.7 173.7L563.3 172.6L562.8 176.6L563.3 177.7L564.3 178.5L565.5 182.0L565.2 185.5L565.7 182.5L567.1 186.9L567.3 186.6L567.8 187.7L568.6 193.4L567.8 186.2L569.1 190.4L569.1 189.6L570.6 193.8L571.0 195.3L570.3 204.0L572.3 199.2L571.3 203.3L573.2 203.9L573.1 202.4L573.0 205.5L573.3 208.8L574.3 207.7L575.0 208.9L575.1 210.4L576.3 208.1L575.7 210.1L577.0 212.6L577.5 213.7L577.0 212.2L578.7 213.8L578.3 214.7L578.1 215.3L579.7 217.1L580.4 216.8L581.5 217.4L581.2 215.7L582.8 216.7L583.2 219.1L583.6 216.9L584.2 219.9L584.2 219.1L584.2 219.3L585.3 221.7L586.0 220.3L586.1 220.5L586.4 221.1L586.2 222.5L587.8 226.5L588.2 220.3L587.8 223.5L589.0 223.5L589.8 225.5L589.9 224.0L590.9 221.6L591.4 226.9L590.8 224.1L591.8 225.7L592.7 224.3L593.4 224.9L594.2 226.0L593.0 228.0L594.5 228.2L595.3 226.6L596.1 228.3L596.8 227.4L596.0 228.2L596.8 228.5L597.0 229.3L598.4 228.0L597.8 228.8L599.6 229.5L599.9 229.6L600.2 228.7L599.5 232.0L600.7 229.5L601.8 231.2L601.3 230.7L602.4 232.1L602.9 228.2L603.9 233.5L604.1 231.0L604.6 229.9L604.8 231.7L605.5 234.4L605.9 232.5L606.8 230.6L606.9 231.7L608.0 233.9L607.2 230.8L609.0 232.4L608.9 232.4L610.0 235.4L610.0 232.6L610.9 234.6L611.7 232.4L611.2 232.3L612.0 234.5L612.4 234.2L613.1 231.5L612.7 234.3L613.9 234.4L614.4 233.0L614.6 234.1L615.4 234.2L615.3 233.4L617.1 233.4L617.2 233.3L618.3 233.8L617.6 232.7L618.0 234.2L619.1 232.6L618.7 234.5L620.1 234.4L620.2 233.3L620.8 235.5L621.6 236.8L622.0 236.2L623.3 233.2L623.3 236.2L622.9 235.1L624.4 234.8L623.9 234.3L625.0 235.0L624.9 236.6L625.6 235.7L627.1 234.7L626.7 234.4L627.2 234.8L627.7 235.9L628.3 237.4L629.6 234.2L629.0 235.4L629.4 235.0L630.7 234.6L630.3 236.0L631.3 236.2L632.5 234.0L632.5 234.5L632.8 237.0L633.2 236.1L633.6 236.3L634.2 235.2L635.0 235.4L636.0 236.4L636.4 235.4L636.2 234.7L636.7 236.0L637.8 237.0L637.2 234.9L638.3 237.3L638.8 236.9L639.0 235.3L639.5 236.3L640.6 236.2L640.2 237.0L641.1 237.1L641.7 235.0L642.5 235.0L642.4 237.6L644.0 236.7L643.8 237.0L644.4 237.0L644.8 238.4L645.2 235.4L645.5 238.0L647.0 235.9L647.1 237.7" fill="none" stroke="#000" stroke-width="3.6" stroke-linejoin="round"/>
<path d="M463.5 268.3L464.2 269.5L463.8 267.6L465.2 269.0L465.2 268.3L465.9 267.3L466.5 269.1L467.3 266.6L467.8 268.9L468.7 267.2L468.6 268.6L468.8 269.7L469.3 268.7L470.3 267.5L471.2 268.1L471.1 267.7L471.3 266.8L472.1 266.8L472.6 268.1L473.0 268.6L473.2 266.1L472.9 267.9L474.3 268.5L475.4 268.0L475.6 266.8L475.1 269.0L476.5 266.5L476.2 268.6L478.3 269.6L478.1 265.6L478.0 268.1L479.3 268.1L479.2 268.0L480.2 266.9L480.5 267.4L480.5 266.2L481.8 267.8L481.4 268.3L483.1 266.9L483.0 266.6L483.1 267.1L483.2 267.6L485.2 267.6L485.6 267.4L485.0 267.6L486.7 266.0L486.6 264.5L486.9 268.1L487.5 269.0L487.9 265.8L489.1 266.6L489.1 267.7L488.7 268.3L490.9 268.0L490.9 268.6L490.5 267.1L491.3 267.6L491.6 267.6L492.5 266.6L493.2 268.4L493.6 267.7L493.7 268.1L494.2 266.5L495.4 268.0L495.5 265.7L497.0 267.2L496.2 263.9L497.3 265.6L497.5 267.5L497.7 266.1L499.1 266.7L499.1 264.7L499.1 268.2L499.9 267.1L500.9 266.3L500.5 266.7L502.1 266.5L502.3 267.6L502.4 266.1L503.6 264.0L504.3 265.2L504.3 266.7L504.6 265.7L505.8 264.3L506.2 265.2L505.6 264.3L506.4 264.6L506.9 261.7L507.3 262.2L507.3 263.7L508.9 262.2L509.0 262.4L509.5 263.7L510.6 260.2L510.2 260.1L511.0 258.3L511.6 257.2L511.8 256.9L512.4 254.1L513.4 252.1L513.5 255.4L514.7 251.9L514.1 251.8L515.1 248.5L514.8 246.4L515.9 245.1L516.1 243.0L517.7 237.9L517.9 239.7L518.3 234.2L519.6 234.3L519.8 236.6L519.9 230.5L519.6 231.5L519.6 226.0L521.0 226.0L521.3 223.2L521.6 222.1L522.3 218.0L521.9 216.1L524.4 217.0L523.3 211.6L524.1 211.5L525.4 213.1L524.5 209.0L526.6 206.9L527.1 205.0L526.8 206.3L526.8 203.8L527.7 203.6L527.3 201.5L529.9 204.9L529.5 198.3L529.5 193.5L529.9 197.2L531.4 195.8L532.5 195.0L531.2 189.7L532.1 195.3L531.9 191.4L533.9 190.3L534.1 185.5L535.9 189.7L534.9 187.4L535.2 190.1L535.5 184.7L537.0 181.8L536.0 184.5L538.0 181.0L538.2 183.8L538.2 179.3L538.4 181.1L540.2 180.2L541.2 180.0L540.2 178.1L541.3 176.7L542.6 178.1L541.6 176.2L542.3 177.7L542.2 176.1L543.4 170.5L543.9 176.2L544.2 180.0L544.5 177.1L544.5 178.1L545.1 178.2L545.9 176.2L547.4 174.6L547.2 181.1L547.5 182.5L548.9 182.2L549.4 183.1L549.0 184.6L549.6 185.4L550.9 188.1L551.2 189.5L551.0 192.5L552.2 191.6L552.5 194.5L553.7 199.3L552.9 199.5L554.6 197.3L554.8 205.4L554.4 202.6L556.2 213.8L556.6 213.3L555.7 215.0L558.3 214.0L556.8 214.7L557.4 218.0L558.3 219.9L559.5 219.9L559.9 223.2L559.9 225.7L561.3 227.2L561.2 226.0L562.3 225.9L563.7 231.6L562.6 232.4L561.5 236.1L563.2 239.9L563.4 241.6L564.6 241.1L565.1 243.8L564.8 245.8L565.4 244.6L566.4 246.0L566.9 247.9L566.1 247.7L568.5 248.1L568.5 248.7L569.0 250.7L569.7 250.7L569.5 253.5L570.5 252.7L571.5 255.8L572.0 256.1L572.2 253.5L572.4 257.1L572.6 255.6L574.1 258.2L574.3 257.5L574.3 257.2L573.9 258.4L575.1 257.2L575.1 258.6L577.1 258.9L577.1 258.5L577.1 259.4L577.9 258.0L579.7 260.1L579.6 258.2L578.9 260.6L579.9 260.6L579.9 261.1L580.2 259.8L581.6 264.3L583.1 260.6L583.2 261.2L583.0 260.3L583.3 263.0L584.1 261.0L585.0 262.9L584.3 260.8L584.6 262.4L586.9 261.8L586.6 263.5L587.8 262.2L587.6 261.7L588.7 263.4L588.2 261.7L589.2 262.1L590.2 264.3L590.5 261.4L590.3 264.6L591.4 263.4L591.2 263.0L591.3 264.5L592.7 265.1L593.7 263.8L593.9 264.4L593.4 265.7L594.9 265.8L595.3 265.0L595.3 264.4L594.9 264.3L597.0 264.8L597.4 266.4L597.7 266.4L597.2 266.2L597.8 267.5L599.5 265.8L599.9 265.8L600.2 265.9L600.4 268.5L601.2 264.3L601.3 267.0L601.9 267.3L602.1 266.9L603.1 269.5L603.3 268.3L604.4 268.0L604.8 266.3L604.6 267.8L606.3 267.0L605.5 267.5L606.7 267.7L607.5 267.1L608.1 268.3L607.0 269.4L609.0 268.8L609.6 268.0L610.2 265.8L609.0 269.0L610.2 269.0L611.0 267.7L611.3 267.5L612.6 268.7L612.2 267.2L613.6 268.9L613.8 267.0L613.3 267.2L614.0 268.2L614.8 266.7L615.5 268.2L616.5 268.8L616.4 266.9L617.4 269.3L616.8 267.7L616.6 268.9L618.3 268.6L619.2 267.9L619.3 267.9L619.5 266.7L620.7 267.8L621.9 267.7L621.5 270.3L621.7 269.6L622.1 267.1L623.9 269.4L623.5 268.9L624.3 268.2L625.1 269.1L625.5 269.5L625.1 268.1L626.4 268.4L626.9 268.9L627.2 267.7L628.0 269.0L627.7 268.7L628.5 268.1L628.8 268.0L629.8 269.2L629.7 269.8L630.7 269.2L630.5 268.0L631.4 269.7L631.8 269.1L632.4 269.6L633.1 270.2L633.4 268.0L633.9 268.9L633.6 268.4L635.5 268.1L635.2 271.1L635.9 270.0L636.1 267.2L637.5 269.5L637.1 268.5L638.2 270.3L639.0 269.2L639.7 269.0L640.0 269.3L640.3 269.6L640.0 269.2L641.6 269.0L642.0 269.1L642.4 269.8L642.9 268.1L643.0 269.3L643.3 269.2L644.5 268.8L645.1 270.1L644.5 268.0L645.9 269.0L646.1 268.5L646.9 270.0L647.1 269.0" fill="none" stroke="#000" stroke-width="3.6" stroke-linejoin="round"/>
<path d="M535.6 42 L537.9 30.5 L540.4 44 Z" fill="#000"/>
<rect x="463.5" y="1.9" width="185" height="273" fill="none" stroke="#000" stroke-width="1.9"/>
<line x1="500.2" y1="275" x2="500.2" y2="281" stroke="#000" stroke-width="1.6"/>
<line x1="574.1" y1="275" x2="574.1" y2="281" stroke="#000" stroke-width="1.6"/>
<line x1="648.0" y1="275" x2="648.0" y2="281" stroke="#000" stroke-width="1.6"/>
<line x1="537.2" y1="275" x2="537.2" y2="278" stroke="#000" stroke-width="1.6"/>
<line x1="611.1" y1="275" x2="611.1" y2="278" stroke="#000" stroke-width="1.6"/>
<line x1="520.5" y1="27.9" x2="560" y2="27.9" stroke="#000" stroke-width="2"/>
<path d="M558 23.8 L568.5 27.9 L558 32 Z" fill="#000"/>
<line x1="524" y1="262.4" x2="541.5" y2="262.4" stroke="#555" stroke-width="1.3"/>
<path d="M522 262.4 L527 260 L527 264.8 Z" fill="#000"/>
<path d="M543.8 262.4 L538.8 260 L538.8 264.8 Z" fill="#000"/>
<path d="M529.6 259 L533 250.5 L536.4 259 Z" fill="none" stroke="#000" stroke-width="1.3"/>
<text x="36.2" y="288.0" font-family='"Liberation Sans", sans-serif' font-size="14.0" font-weight="bold" text-anchor="middle" transform="translate(36.2 0) scale(0.93 1) translate(-36.2 0)">20</text>
<text x="96.5" y="288.0" font-family='"Liberation Sans", sans-serif' font-size="14.0" font-weight="bold" text-anchor="middle" transform="translate(96.5 0) scale(0.93 1) translate(-96.5 0)">30</text>
<text x="156.8" y="288.0" font-family='"Liberation Sans", sans-serif' font-size="14.0" font-weight="bold" text-anchor="middle" transform="translate(156.8 0) scale(0.93 1) translate(-156.8 0)">40</text>
<text x="217.1" y="288.0" font-family='"Liberation Sans", sans-serif' font-size="14.0" font-weight="bold" text-anchor="middle" transform="translate(217.1 0) scale(0.93 1) translate(-217.1 0)">50</text>
<text x="277.4" y="288.0" font-family='"Liberation Sans", sans-serif' font-size="14.0" font-weight="bold" text-anchor="middle" transform="translate(277.4 0) scale(0.93 1) translate(-277.4 0)">60</text>
<text x="337.7" y="288.0" font-family='"Liberation Sans", sans-serif' font-size="14.0" font-weight="bold" text-anchor="middle" transform="translate(337.7 0) scale(0.93 1) translate(-337.7 0)">70</text>
<text x="398.0" y="288.0" font-family='"Liberation Sans", sans-serif' font-size="14.0" font-weight="bold" text-anchor="middle" transform="translate(398.0 0) scale(0.93 1) translate(-398.0 0)">80</text>
<text x="227.7" y="308.6" font-family='"Liberation Sans", sans-serif' font-size="16.0" font-weight="bold" text-anchor="middle" transform="translate(227.7 0) scale(0.83 1) translate(-227.7 0)">2&#952; (deg)</text>
<text x="0.0" y="0.0" font-family='"Liberation Sans", sans-serif' font-size="16.0" font-weight="bold" text-anchor="middle" transform="translate(26.8 130.2) rotate(-90)">Intensity (arb.units)</text>
<text x="99.5" y="21.2" font-family='"Liberation Sans", sans-serif' font-size="12.5" font-weight="bold" text-anchor="middle" >006</text>
<text x="149.4" y="20.6" font-family='"Liberation Sans", sans-serif' font-size="12.5" font-weight="bold" text-anchor="middle" >012</text>
<text x="250.0" y="20.2" font-family='"Liberation Sans", sans-serif' font-size="12.5" font-weight="bold" text-anchor="middle" >018</text>
<text x="286.0" y="20.2" font-family='"Liberation Sans", sans-serif' font-size="12.5" font-weight="bold" text-anchor="middle" >110</text>
<text x="117.8" y="110.8" font-family='"Liberation Sans", sans-serif' font-size="12.5" font-weight="bold" text-anchor="middle" >101</text>
<text x="392.1" y="142.3" font-family='"Liberation Sans", sans-serif' font-size="15.0" font-weight="bold" text-anchor="end" >as dep</text>
<text x="392.1" y="173.3" font-family='"Liberation Sans", sans-serif' font-size="15.0" font-weight="bold" text-anchor="end" >30s</text>
<text x="392.8" y="204.9" font-family='"Liberation Sans", sans-serif' font-size="15.0" font-weight="bold" text-anchor="end" >60s</text>
<text x="394.6" y="232.2" font-family='"Liberation Sans", sans-serif' font-size="15.0" font-weight="bold" text-anchor="end" >200s</text>
<text x="395.4" y="257.8" font-family='"Liberation Sans", sans-serif' font-size="15.0" font-weight="bold" text-anchor="end" >1000s</text>
<text x="0" y="30.2" transform="matrix(0.850 0 0 1 0.10 0)" font-family='"Liberation Serif", serif' font-size="27.0" font-weight="normal">(</text>
<text x="0" y="30.0" transform="matrix(1.020 0 0 1 8.00 0)" font-family='"Liberation Serif", serif' font-size="24.0" font-weight="bold">a</text>
<text x="0" y="30.2" transform="matrix(0.850 0 0 1 21.10 0)" font-family='"Liberation Serif", serif' font-size="27.0" font-weight="normal">)</text>
<text x="0" y="30.2" transform="matrix(0.850 0 0 1 429.20 0)" font-family='"Liberation Serif", serif' font-size="27.0" font-weight="normal">(</text>
<text x="0" y="30.5" transform="matrix(0.950 0 0 1 437.50 0)" font-family='"Liberation Serif", serif' font-size="25.5" font-weight="bold">b</text>
<text x="0" y="30.2" transform="matrix(0.850 0 0 1 451.10 0)" font-family='"Liberation Serif", serif' font-size="27.0" font-weight="normal">)</text>
<text x="500.2" y="291.4" font-family='"Liberation Sans", sans-serif' font-size="13.0" font-weight="bold" text-anchor="middle" transform="translate(500.2 0) scale(0.9 1) translate(-500.2 0)">36</text>
<text x="574.1" y="291.4" font-family='"Liberation Sans", sans-serif' font-size="13.0" font-weight="bold" text-anchor="middle" transform="translate(574.1 0) scale(0.9 1) translate(-574.1 0)">37</text>
<text x="648.0" y="291.4" font-family='"Liberation Sans", sans-serif' font-size="13.0" font-weight="bold" text-anchor="middle" transform="translate(648.0 0) scale(0.9 1) translate(-648.0 0)">38</text>
<text x="563.0" y="308.6" font-family='"Liberation Sans", sans-serif' font-size="16.0" font-weight="bold" text-anchor="middle" transform="translate(563 0) scale(0.83 1) translate(-563 0)">2&#952; (deg)</text>
<text x="0.0" y="0.0" font-family='"Liberation Sans", sans-serif' font-size="16.0" font-weight="bold" text-anchor="middle" transform="translate(459.3 139) rotate(-90)">Intensity (arb.units)</text>
<text x="494.3" y="19.2" font-family='"Liberation Sans", sans-serif' font-size="14.5" font-weight="bold" text-anchor="start" transform="translate(494.3 0) scale(0.866 1) translate(-494.3 0)">annealing time increases</text>
<text x="624.1" y="105.8" font-family='"Liberation Sans", sans-serif' font-size="14.5" font-weight="bold" text-anchor="middle" transform="translate(624.1 0) scale(0.84 1) translate(-624.1 0)">as dep</text>
<text x="626.3" y="135.4" font-family='"Liberation Sans", sans-serif' font-size="14.5" font-weight="bold" text-anchor="middle" transform="translate(626.3 0) scale(0.84 1) translate(-626.3 0)">30s</text>
<text x="629.5" y="166.6" font-family='"Liberation Sans", sans-serif' font-size="14.5" font-weight="bold" text-anchor="middle" transform="translate(629.5 0) scale(0.84 1) translate(-629.5 0)">60s</text>
<text x="629.0" y="198.7" font-family='"Liberation Sans", sans-serif' font-size="14.5" font-weight="bold" text-anchor="middle" transform="translate(629.0 0) scale(0.84 1) translate(-629.0 0)">200s</text>
<text x="627.6" y="226.0" font-family='"Liberation Sans", sans-serif' font-size="14.5" font-weight="bold" text-anchor="middle" transform="translate(627.6 0) scale(0.84 1) translate(-627.6 0)">1000s</text>
<text x="628.7" y="261.8" font-family='"Liberation Sans", sans-serif' font-size="14.5" font-weight="bold" text-anchor="middle" transform="translate(628.7 0) scale(0.84 1) translate(-628.7 0)">4000s</text></svg>
</body></html>
